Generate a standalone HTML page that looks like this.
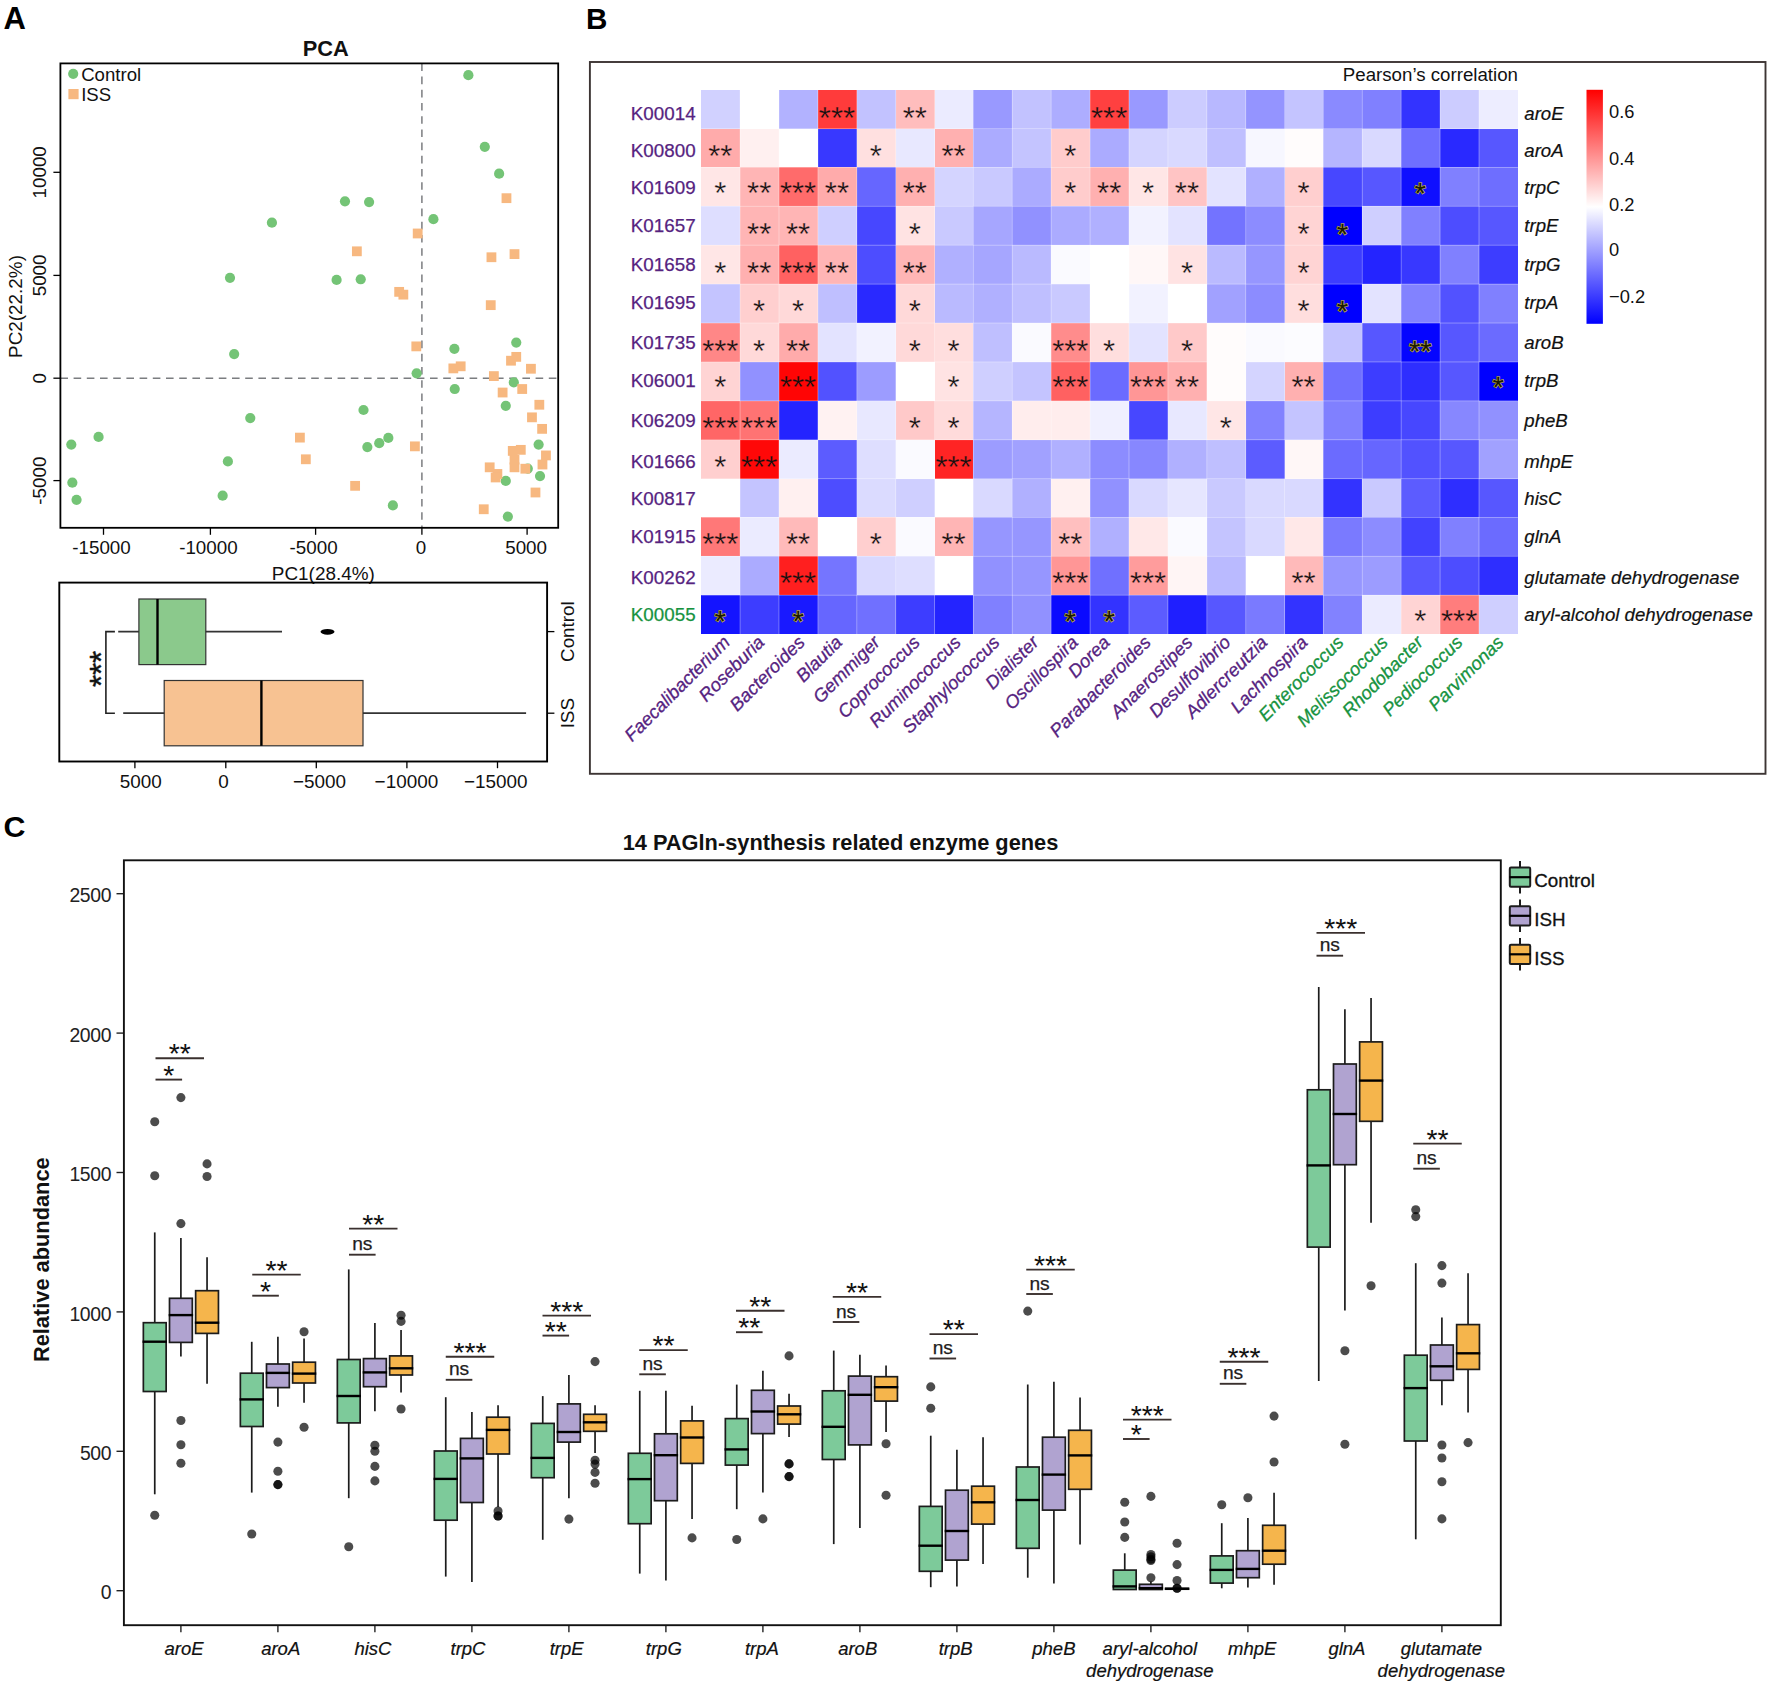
<!DOCTYPE html>
<html lang="en">
<head>
<meta charset="utf-8">
<title>Figure</title>
<style>
html,body{margin:0;padding:0;background:#fff;}
body{width:1772px;height:1688px;overflow:hidden;}
svg{display:block;font-family:"Liberation Sans", Arial, Helvetica, sans-serif;}
</style>
</head>
<body>
<svg width="1772" height="1688" viewBox="0 0 1772 1688">
<rect x="0" y="0" width="1772" height="1688" fill="#ffffff"/>
<g id="panelA">
<text x="3.5" y="29" font-size="31" fill="#000" font-weight="bold">A</text>
<text x="325.8" y="56" font-size="21.8" fill="#111" text-anchor="middle" font-weight="bold">PCA</text>
<line x1="421.9" y1="63.4" x2="421.9" y2="527.8" stroke="#7b7d80" stroke-width="1.5" stroke-dasharray="7.6 5.6"/>
<line x1="60.4" y1="378.2" x2="558.2" y2="378.2" stroke="#7b7d80" stroke-width="1.5" stroke-dasharray="7.6 5.6"/>
<circle cx="468.37" cy="75.15" r="5.1" fill="#74c476"/>
<circle cx="484.8" cy="146.8" r="5.1" fill="#74c476"/>
<circle cx="499.13" cy="173.72" r="5.1" fill="#74c476"/>
<circle cx="344.98" cy="201.33" r="5.1" fill="#74c476"/>
<circle cx="369.1" cy="202.03" r="5.1" fill="#74c476"/>
<circle cx="433.41" cy="219.15" r="5.1" fill="#74c476"/>
<circle cx="271.93" cy="222.65" r="5.1" fill="#74c476"/>
<circle cx="229.99" cy="277.87" r="5.1" fill="#74c476"/>
<circle cx="336.6" cy="279.97" r="5.1" fill="#74c476"/>
<circle cx="360.71" cy="279.27" r="5.1" fill="#74c476"/>
<circle cx="234.18" cy="354.07" r="5.1" fill="#74c476"/>
<circle cx="516.25" cy="342.54" r="5.1" fill="#74c476"/>
<circle cx="454.39" cy="348.83" r="5.1" fill="#74c476"/>
<circle cx="416.64" cy="373.3" r="5.1" fill="#74c476"/>
<circle cx="454.74" cy="389.02" r="5.1" fill="#74c476"/>
<circle cx="513.81" cy="382.38" r="5.1" fill="#74c476"/>
<circle cx="505.77" cy="405.8" r="5.1" fill="#74c476"/>
<circle cx="363.51" cy="410" r="5.1" fill="#74c476"/>
<circle cx="250.26" cy="418.04" r="5.1" fill="#74c476"/>
<circle cx="98.57" cy="436.91" r="5.1" fill="#74c476"/>
<circle cx="71.3" cy="444.6" r="5.1" fill="#74c476"/>
<circle cx="388.33" cy="437.96" r="5.1" fill="#74c476"/>
<circle cx="379.24" cy="443.2" r="5.1" fill="#74c476"/>
<circle cx="367.35" cy="447.05" r="5.1" fill="#74c476"/>
<circle cx="227.89" cy="461.38" r="5.1" fill="#74c476"/>
<circle cx="538.62" cy="444.6" r="5.1" fill="#74c476"/>
<circle cx="527.79" cy="468.72" r="5.1" fill="#74c476"/>
<circle cx="540.02" cy="476.06" r="5.1" fill="#74c476"/>
<circle cx="505.77" cy="480.95" r="5.1" fill="#74c476"/>
<circle cx="72.35" cy="482.7" r="5.1" fill="#74c476"/>
<circle cx="76.55" cy="499.83" r="5.1" fill="#74c476"/>
<circle cx="222.65" cy="495.63" r="5.1" fill="#74c476"/>
<circle cx="392.87" cy="505.42" r="5.1" fill="#74c476"/>
<circle cx="507.86" cy="516.6" r="5.1" fill="#74c476"/>
<rect x="501.57" y="193.28" width="9.8" height="9.8" fill="#f7b880"/>
<rect x="412.79" y="228.58" width="9.8" height="9.8" fill="#f7b880"/>
<rect x="351.97" y="246.41" width="9.8" height="9.8" fill="#f7b880"/>
<rect x="486.54" y="252.35" width="9.8" height="9.8" fill="#f7b880"/>
<rect x="509.61" y="249.21" width="9.8" height="9.8" fill="#f7b880"/>
<rect x="394.26" y="286.96" width="9.8" height="9.8" fill="#f7b880"/>
<rect x="398.46" y="289.75" width="9.8" height="9.8" fill="#f7b880"/>
<rect x="485.84" y="300.24" width="9.8" height="9.8" fill="#f7b880"/>
<rect x="411.39" y="341.48" width="9.8" height="9.8" fill="#f7b880"/>
<rect x="511.35" y="351.97" width="9.8" height="9.8" fill="#f7b880"/>
<rect x="506.11" y="355.81" width="9.8" height="9.8" fill="#f7b880"/>
<rect x="455.78" y="361.41" width="9.8" height="9.8" fill="#f7b880"/>
<rect x="448.44" y="363.5" width="9.8" height="9.8" fill="#f7b880"/>
<rect x="526.03" y="363.85" width="9.8" height="9.8" fill="#f7b880"/>
<rect x="488.98" y="371.19" width="9.8" height="9.8" fill="#f7b880"/>
<rect x="517.3" y="384.12" width="9.8" height="9.8" fill="#f7b880"/>
<rect x="497.72" y="387.62" width="9.8" height="9.8" fill="#f7b880"/>
<rect x="534.42" y="399.85" width="9.8" height="9.8" fill="#f7b880"/>
<rect x="527.08" y="412.44" width="9.8" height="9.8" fill="#f7b880"/>
<rect x="537.22" y="423.97" width="9.8" height="9.8" fill="#f7b880"/>
<rect x="295" y="432.71" width="9.8" height="9.8" fill="#f7b880"/>
<rect x="409.99" y="441.45" width="9.8" height="9.8" fill="#f7b880"/>
<rect x="507.86" y="445.99" width="9.8" height="9.8" fill="#f7b880"/>
<rect x="515.9" y="444.94" width="9.8" height="9.8" fill="#f7b880"/>
<rect x="541.06" y="450.54" width="9.8" height="9.8" fill="#f7b880"/>
<rect x="300.94" y="454.38" width="9.8" height="9.8" fill="#f7b880"/>
<rect x="509.61" y="454.73" width="9.8" height="9.8" fill="#f7b880"/>
<rect x="537.57" y="459.62" width="9.8" height="9.8" fill="#f7b880"/>
<rect x="484.79" y="462.42" width="9.8" height="9.8" fill="#f7b880"/>
<rect x="509.61" y="462.42" width="9.8" height="9.8" fill="#f7b880"/>
<rect x="520.44" y="463.82" width="9.8" height="9.8" fill="#f7b880"/>
<rect x="492.48" y="469.06" width="9.8" height="9.8" fill="#f7b880"/>
<rect x="490.73" y="472.56" width="9.8" height="9.8" fill="#f7b880"/>
<rect x="350.22" y="480.94" width="9.8" height="9.8" fill="#f7b880"/>
<rect x="530.58" y="487.59" width="9.8" height="9.8" fill="#f7b880"/>
<rect x="478.85" y="504.36" width="9.8" height="9.8" fill="#f7b880"/>
<rect x="60.4" y="63.4" width="497.8" height="464.4" fill="none" stroke="#000" stroke-width="1.8"/>
<circle cx="73.2" cy="73.8" r="5.1" fill="#74c476"/>
<text x="81.2" y="81" font-size="18.6" fill="#111">Control</text>
<rect x="68.4" y="89" width="10.2" height="10.2" fill="#f7b880"/>
<text x="81.2" y="100.8" font-size="18.6" fill="#111">ISS</text>
<line x1="103.5" y1="527.8" x2="103.5" y2="534.8" stroke="#000" stroke-width="1.3" />
<text x="101.5" y="553.5" font-size="18.8" fill="#111" text-anchor="middle">-15000</text>
<line x1="210.4" y1="527.8" x2="210.4" y2="534.8" stroke="#000" stroke-width="1.3" />
<text x="208.4" y="553.5" font-size="18.8" fill="#111" text-anchor="middle">-10000</text>
<line x1="315.6" y1="527.8" x2="315.6" y2="534.8" stroke="#000" stroke-width="1.3" />
<text x="313.6" y="553.5" font-size="18.8" fill="#111" text-anchor="middle">-5000</text>
<line x1="421.9" y1="527.8" x2="421.9" y2="534.8" stroke="#000" stroke-width="1.3" />
<text x="420.9" y="553.5" font-size="18.8" fill="#111" text-anchor="middle">0</text>
<line x1="527.1" y1="527.8" x2="527.1" y2="534.8" stroke="#000" stroke-width="1.3" />
<text x="526.1" y="553.5" font-size="18.8" fill="#111" text-anchor="middle">5000</text>
<line x1="53.4" y1="172.3" x2="60.4" y2="172.3" stroke="#000" stroke-width="1.3" />
<text x="46.5" y="172.3" font-size="18.8" fill="#111" text-anchor="middle" transform="rotate(-90 46.5 172.3)">10000</text>
<line x1="53.4" y1="275.4" x2="60.4" y2="275.4" stroke="#000" stroke-width="1.3" />
<text x="46.5" y="275.4" font-size="18.8" fill="#111" text-anchor="middle" transform="rotate(-90 46.5 275.4)">5000</text>
<line x1="53.4" y1="378.2" x2="60.4" y2="378.2" stroke="#000" stroke-width="1.3" />
<text x="46.5" y="378.2" font-size="18.8" fill="#111" text-anchor="middle" transform="rotate(-90 46.5 378.2)">0</text>
<line x1="53.4" y1="480.6" x2="60.4" y2="480.6" stroke="#000" stroke-width="1.3" />
<text x="46.5" y="480.6" font-size="18.8" fill="#111" text-anchor="middle" transform="rotate(-90 46.5 480.6)">-5000</text>
<text x="323.3" y="580.4" font-size="18.9" fill="#111" text-anchor="middle">PC1(28.4%)</text>
<text x="22" y="306.5" font-size="18.9" fill="#111" text-anchor="middle" transform="rotate(-90 22 306.5)">PC2(22.2%)</text>
<line x1="118.2" y1="631.6" x2="282" y2="631.6" stroke="#333" stroke-width="1.7" />
<rect x="138.9" y="599" width="66.9" height="65.6" fill="#8bc98c" stroke="#333" stroke-width="1.2"/>
<line x1="157.5" y1="599" x2="157.5" y2="664.6" stroke="#000" stroke-width="2.4" />
<ellipse cx="327.5" cy="631.8" rx="7" ry="2.9" fill="#000"/>
<line x1="123.2" y1="713.2" x2="526.1" y2="713.2" stroke="#333" stroke-width="1.7" />
<rect x="164.2" y="680.5" width="198.8" height="65.3" fill="#f7c292" stroke="#333" stroke-width="1.2"/>
<line x1="261.4" y1="680.5" x2="261.4" y2="745.8" stroke="#000" stroke-width="2.4" />
<path d="M114.9 631.6 H105.9 V713.2 H114.9" fill="none" stroke="#222" stroke-width="1.6"/>
<text x="112.5" y="668.9" font-size="31" fill="#111" text-anchor="middle" transform="rotate(-90 112.5 668.9)" stroke="#111" stroke-width="0.5">***</text>
<rect x="59.3" y="582.6" width="487.8" height="178.9" fill="none" stroke="#000" stroke-width="1.9"/>
<line x1="134.9" y1="761.5" x2="134.9" y2="768.2" stroke="#000" stroke-width="1.3" />
<text x="140.8" y="788.2" font-size="18.9" fill="#111" text-anchor="middle">5000</text>
<line x1="225.8" y1="761.5" x2="225.8" y2="768.2" stroke="#000" stroke-width="1.3" />
<text x="223.4" y="788.2" font-size="18.9" fill="#111" text-anchor="middle">0</text>
<line x1="316.3" y1="761.5" x2="316.3" y2="768.2" stroke="#000" stroke-width="1.3" />
<text x="319.6" y="788.2" font-size="18.9" fill="#111" text-anchor="middle">−5000</text>
<line x1="406.9" y1="761.5" x2="406.9" y2="768.2" stroke="#000" stroke-width="1.3" />
<text x="406.4" y="788.2" font-size="18.9" fill="#111" text-anchor="middle">−10000</text>
<line x1="497.5" y1="761.5" x2="497.5" y2="768.2" stroke="#000" stroke-width="1.3" />
<text x="495.8" y="788.2" font-size="18.9" fill="#111" text-anchor="middle">−15000</text>
<line x1="547.1" y1="631.6" x2="554.4" y2="631.6" stroke="#000" stroke-width="1.3" />
<text x="573.6" y="631.6" font-size="18.8" fill="#111" text-anchor="middle" transform="rotate(-90 573.6 631.6)">Control</text>
<line x1="547.1" y1="713.2" x2="554.4" y2="713.2" stroke="#000" stroke-width="1.3" />
<text x="573.6" y="713.2" font-size="18.8" fill="#111" text-anchor="middle" transform="rotate(-90 573.6 713.2)">ISS</text>
</g>
<g id="panelB">
<text x="585.9" y="29" font-size="29.6" fill="#000" font-weight="bold">B</text>
<rect x="589.9" y="62" width="1175.6" height="711.8" fill="none" stroke="#3d3534" stroke-width="1.9"/>
<g shape-rendering="crispEdges">
<rect x="701.2" y="89.7" width="39.19" height="39.19" fill="#d1d1ff"/>
<rect x="740.09" y="89.7" width="39.19" height="39.19" fill="#ffffff"/>
<rect x="778.98" y="89.7" width="39.19" height="39.19" fill="#b2b2ff"/>
<rect x="817.87" y="89.7" width="39.19" height="39.19" fill="#ff3b3b"/>
<rect x="856.76" y="89.7" width="39.19" height="39.19" fill="#c2c2ff"/>
<rect x="895.65" y="89.7" width="39.19" height="39.19" fill="#ffbdbd"/>
<rect x="934.54" y="89.7" width="39.19" height="39.19" fill="#ebebff"/>
<rect x="973.43" y="89.7" width="39.19" height="39.19" fill="#9999ff"/>
<rect x="1012.32" y="89.7" width="39.19" height="39.19" fill="#c2c2ff"/>
<rect x="1051.21" y="89.7" width="39.19" height="39.19" fill="#adadff"/>
<rect x="1090.1" y="89.7" width="39.19" height="39.19" fill="#ff4040"/>
<rect x="1128.99" y="89.7" width="39.19" height="39.19" fill="#9999ff"/>
<rect x="1167.88" y="89.7" width="39.19" height="39.19" fill="#ccccff"/>
<rect x="1206.77" y="89.7" width="39.19" height="39.19" fill="#b8b8ff"/>
<rect x="1245.66" y="89.7" width="39.19" height="39.19" fill="#9494ff"/>
<rect x="1284.55" y="89.7" width="39.19" height="39.19" fill="#c4c4ff"/>
<rect x="1323.44" y="89.7" width="39.19" height="39.19" fill="#8a8aff"/>
<rect x="1362.33" y="89.7" width="39.19" height="39.19" fill="#8080ff"/>
<rect x="1401.22" y="89.7" width="39.19" height="39.19" fill="#3333ff"/>
<rect x="1440.11" y="89.7" width="39.19" height="39.19" fill="#ccccff"/>
<rect x="1479" y="89.7" width="39.19" height="39.19" fill="#ededff"/>
<rect x="701.2" y="128.59" width="39.19" height="39.19" fill="#ffabab"/>
<rect x="740.09" y="128.59" width="39.19" height="39.19" fill="#fff0f0"/>
<rect x="778.98" y="128.59" width="39.19" height="39.19" fill="#ffffff"/>
<rect x="817.87" y="128.59" width="39.19" height="39.19" fill="#3838ff"/>
<rect x="856.76" y="128.59" width="39.19" height="39.19" fill="#ffe0e0"/>
<rect x="895.65" y="128.59" width="39.19" height="39.19" fill="#e8e8ff"/>
<rect x="934.54" y="128.59" width="39.19" height="39.19" fill="#ffb0b0"/>
<rect x="973.43" y="128.59" width="39.19" height="39.19" fill="#ababff"/>
<rect x="1012.32" y="128.59" width="39.19" height="39.19" fill="#c4c4ff"/>
<rect x="1051.21" y="128.59" width="39.19" height="39.19" fill="#ffcccc"/>
<rect x="1090.1" y="128.59" width="39.19" height="39.19" fill="#ababff"/>
<rect x="1128.99" y="128.59" width="39.19" height="39.19" fill="#d4d4ff"/>
<rect x="1167.88" y="128.59" width="39.19" height="39.19" fill="#d9d9ff"/>
<rect x="1206.77" y="128.59" width="39.19" height="39.19" fill="#bfbfff"/>
<rect x="1245.66" y="128.59" width="39.19" height="39.19" fill="#f7f7ff"/>
<rect x="1284.55" y="128.59" width="39.19" height="39.19" fill="#fffcfc"/>
<rect x="1323.44" y="128.59" width="39.19" height="39.19" fill="#b5b5ff"/>
<rect x="1362.33" y="128.59" width="39.19" height="39.19" fill="#d9d9ff"/>
<rect x="1401.22" y="128.59" width="39.19" height="39.19" fill="#6e6eff"/>
<rect x="1440.11" y="128.59" width="39.19" height="39.19" fill="#2929ff"/>
<rect x="1479" y="128.59" width="39.19" height="39.19" fill="#5757ff"/>
<rect x="701.2" y="167.48" width="39.19" height="39.19" fill="#ffe6e6"/>
<rect x="740.09" y="167.48" width="39.19" height="39.19" fill="#ffb5b5"/>
<rect x="778.98" y="167.48" width="39.19" height="39.19" fill="#ff6b6b"/>
<rect x="817.87" y="167.48" width="39.19" height="39.19" fill="#ffabab"/>
<rect x="856.76" y="167.48" width="39.19" height="39.19" fill="#6666ff"/>
<rect x="895.65" y="167.48" width="39.19" height="39.19" fill="#ffb0b0"/>
<rect x="934.54" y="167.48" width="39.19" height="39.19" fill="#d4d4ff"/>
<rect x="973.43" y="167.48" width="39.19" height="39.19" fill="#c9c9ff"/>
<rect x="1012.32" y="167.48" width="39.19" height="39.19" fill="#ababff"/>
<rect x="1051.21" y="167.48" width="39.19" height="39.19" fill="#ffcccc"/>
<rect x="1090.1" y="167.48" width="39.19" height="39.19" fill="#ffb0b0"/>
<rect x="1128.99" y="167.48" width="39.19" height="39.19" fill="#ffe6e6"/>
<rect x="1167.88" y="167.48" width="39.19" height="39.19" fill="#ffc4c4"/>
<rect x="1206.77" y="167.48" width="39.19" height="39.19" fill="#e3e3ff"/>
<rect x="1245.66" y="167.48" width="39.19" height="39.19" fill="#b0b0ff"/>
<rect x="1284.55" y="167.48" width="39.19" height="39.19" fill="#ffcfcf"/>
<rect x="1323.44" y="167.48" width="39.19" height="39.19" fill="#4747ff"/>
<rect x="1362.33" y="167.48" width="39.19" height="39.19" fill="#5757ff"/>
<rect x="1401.22" y="167.48" width="39.19" height="39.19" fill="#0f0fff"/>
<rect x="1440.11" y="167.48" width="39.19" height="39.19" fill="#8080ff"/>
<rect x="1479" y="167.48" width="39.19" height="39.19" fill="#6e6eff"/>
<rect x="701.2" y="206.37" width="39.19" height="39.19" fill="#dedeff"/>
<rect x="740.09" y="206.37" width="39.19" height="39.19" fill="#ffb5b5"/>
<rect x="778.98" y="206.37" width="39.19" height="39.19" fill="#ffb5b5"/>
<rect x="817.87" y="206.37" width="39.19" height="39.19" fill="#cfcfff"/>
<rect x="856.76" y="206.37" width="39.19" height="39.19" fill="#4747ff"/>
<rect x="895.65" y="206.37" width="39.19" height="39.19" fill="#ffe3e3"/>
<rect x="934.54" y="206.37" width="39.19" height="39.19" fill="#c9c9ff"/>
<rect x="973.43" y="206.37" width="39.19" height="39.19" fill="#a6a6ff"/>
<rect x="1012.32" y="206.37" width="39.19" height="39.19" fill="#9191ff"/>
<rect x="1051.21" y="206.37" width="39.19" height="39.19" fill="#ababff"/>
<rect x="1090.1" y="206.37" width="39.19" height="39.19" fill="#b0b0ff"/>
<rect x="1128.99" y="206.37" width="39.19" height="39.19" fill="#f2f2ff"/>
<rect x="1167.88" y="206.37" width="39.19" height="39.19" fill="#e3e3ff"/>
<rect x="1206.77" y="206.37" width="39.19" height="39.19" fill="#7373ff"/>
<rect x="1245.66" y="206.37" width="39.19" height="39.19" fill="#8c8cff"/>
<rect x="1284.55" y="206.37" width="39.19" height="39.19" fill="#ffd4d4"/>
<rect x="1323.44" y="206.37" width="39.19" height="39.19" fill="#0000ff"/>
<rect x="1362.33" y="206.37" width="39.19" height="39.19" fill="#cfcfff"/>
<rect x="1401.22" y="206.37" width="39.19" height="39.19" fill="#8080ff"/>
<rect x="1440.11" y="206.37" width="39.19" height="39.19" fill="#4d4dff"/>
<rect x="1479" y="206.37" width="39.19" height="39.19" fill="#5757ff"/>
<rect x="701.2" y="245.26" width="39.19" height="39.19" fill="#ffe6e6"/>
<rect x="740.09" y="245.26" width="39.19" height="39.19" fill="#ffb0b0"/>
<rect x="778.98" y="245.26" width="39.19" height="39.19" fill="#ff6161"/>
<rect x="817.87" y="245.26" width="39.19" height="39.19" fill="#ffb5b5"/>
<rect x="856.76" y="245.26" width="39.19" height="39.19" fill="#4d4dff"/>
<rect x="895.65" y="245.26" width="39.19" height="39.19" fill="#ffb5b5"/>
<rect x="934.54" y="245.26" width="39.19" height="39.19" fill="#b0b0ff"/>
<rect x="973.43" y="245.26" width="39.19" height="39.19" fill="#a6a6ff"/>
<rect x="1012.32" y="245.26" width="39.19" height="39.19" fill="#babaff"/>
<rect x="1051.21" y="245.26" width="39.19" height="39.19" fill="#fafaff"/>
<rect x="1090.1" y="245.26" width="39.19" height="39.19" fill="#ffffff"/>
<rect x="1128.99" y="245.26" width="39.19" height="39.19" fill="#fff7f7"/>
<rect x="1167.88" y="245.26" width="39.19" height="39.19" fill="#ffe3e3"/>
<rect x="1206.77" y="245.26" width="39.19" height="39.19" fill="#babaff"/>
<rect x="1245.66" y="245.26" width="39.19" height="39.19" fill="#9696ff"/>
<rect x="1284.55" y="245.26" width="39.19" height="39.19" fill="#ffd4d4"/>
<rect x="1323.44" y="245.26" width="39.19" height="39.19" fill="#3d3dff"/>
<rect x="1362.33" y="245.26" width="39.19" height="39.19" fill="#2424ff"/>
<rect x="1401.22" y="245.26" width="39.19" height="39.19" fill="#3838ff"/>
<rect x="1440.11" y="245.26" width="39.19" height="39.19" fill="#8080ff"/>
<rect x="1479" y="245.26" width="39.19" height="39.19" fill="#3d3dff"/>
<rect x="701.2" y="284.15" width="39.19" height="39.19" fill="#c4c4ff"/>
<rect x="740.09" y="284.15" width="39.19" height="39.19" fill="#ffcfcf"/>
<rect x="778.98" y="284.15" width="39.19" height="39.19" fill="#ffd9d9"/>
<rect x="817.87" y="284.15" width="39.19" height="39.19" fill="#bfbfff"/>
<rect x="856.76" y="284.15" width="39.19" height="39.19" fill="#2929ff"/>
<rect x="895.65" y="284.15" width="39.19" height="39.19" fill="#ffd9d9"/>
<rect x="934.54" y="284.15" width="39.19" height="39.19" fill="#babaff"/>
<rect x="973.43" y="284.15" width="39.19" height="39.19" fill="#b0b0ff"/>
<rect x="1012.32" y="284.15" width="39.19" height="39.19" fill="#bfbfff"/>
<rect x="1051.21" y="284.15" width="39.19" height="39.19" fill="#c9c9ff"/>
<rect x="1090.1" y="284.15" width="39.19" height="39.19" fill="#ffffff"/>
<rect x="1128.99" y="284.15" width="39.19" height="39.19" fill="#f2f2ff"/>
<rect x="1167.88" y="284.15" width="39.19" height="39.19" fill="#ffffff"/>
<rect x="1206.77" y="284.15" width="39.19" height="39.19" fill="#a1a1ff"/>
<rect x="1245.66" y="284.15" width="39.19" height="39.19" fill="#8c8cff"/>
<rect x="1284.55" y="284.15" width="39.19" height="39.19" fill="#ffdede"/>
<rect x="1323.44" y="284.15" width="39.19" height="39.19" fill="#0000ff"/>
<rect x="1362.33" y="284.15" width="39.19" height="39.19" fill="#e3e3ff"/>
<rect x="1401.22" y="284.15" width="39.19" height="39.19" fill="#8282ff"/>
<rect x="1440.11" y="284.15" width="39.19" height="39.19" fill="#5252ff"/>
<rect x="1479" y="284.15" width="39.19" height="39.19" fill="#8080ff"/>
<rect x="701.2" y="323.04" width="39.19" height="39.19" fill="#ff8787"/>
<rect x="740.09" y="323.04" width="39.19" height="39.19" fill="#ffd9d9"/>
<rect x="778.98" y="323.04" width="39.19" height="39.19" fill="#ffabab"/>
<rect x="817.87" y="323.04" width="39.19" height="39.19" fill="#e3e3ff"/>
<rect x="856.76" y="323.04" width="39.19" height="39.19" fill="#f2f2ff"/>
<rect x="895.65" y="323.04" width="39.19" height="39.19" fill="#ffd9d9"/>
<rect x="934.54" y="323.04" width="39.19" height="39.19" fill="#ffdede"/>
<rect x="973.43" y="323.04" width="39.19" height="39.19" fill="#bfbfff"/>
<rect x="1012.32" y="323.04" width="39.19" height="39.19" fill="#fafaff"/>
<rect x="1051.21" y="323.04" width="39.19" height="39.19" fill="#ff8c8c"/>
<rect x="1090.1" y="323.04" width="39.19" height="39.19" fill="#ffdede"/>
<rect x="1128.99" y="323.04" width="39.19" height="39.19" fill="#e3e3ff"/>
<rect x="1167.88" y="323.04" width="39.19" height="39.19" fill="#ffc9c9"/>
<rect x="1206.77" y="323.04" width="39.19" height="39.19" fill="#fffcfc"/>
<rect x="1245.66" y="323.04" width="39.19" height="39.19" fill="#fafaff"/>
<rect x="1284.55" y="323.04" width="39.19" height="39.19" fill="#fcfcff"/>
<rect x="1323.44" y="323.04" width="39.19" height="39.19" fill="#c4c4ff"/>
<rect x="1362.33" y="323.04" width="39.19" height="39.19" fill="#5757ff"/>
<rect x="1401.22" y="323.04" width="39.19" height="39.19" fill="#0505ff"/>
<rect x="1440.11" y="323.04" width="39.19" height="39.19" fill="#5757ff"/>
<rect x="1479" y="323.04" width="39.19" height="39.19" fill="#6b6bff"/>
<rect x="701.2" y="361.93" width="39.19" height="39.19" fill="#ffd4d4"/>
<rect x="740.09" y="361.93" width="39.19" height="39.19" fill="#9191ff"/>
<rect x="778.98" y="361.93" width="39.19" height="39.19" fill="#ff0505"/>
<rect x="817.87" y="361.93" width="39.19" height="39.19" fill="#5252ff"/>
<rect x="856.76" y="361.93" width="39.19" height="39.19" fill="#9c9cff"/>
<rect x="895.65" y="361.93" width="39.19" height="39.19" fill="#ffffff"/>
<rect x="934.54" y="361.93" width="39.19" height="39.19" fill="#ffe3e3"/>
<rect x="973.43" y="361.93" width="39.19" height="39.19" fill="#cfcfff"/>
<rect x="1012.32" y="361.93" width="39.19" height="39.19" fill="#c4c4ff"/>
<rect x="1051.21" y="361.93" width="39.19" height="39.19" fill="#ff6161"/>
<rect x="1090.1" y="361.93" width="39.19" height="39.19" fill="#6b6bff"/>
<rect x="1128.99" y="361.93" width="39.19" height="39.19" fill="#ff9696"/>
<rect x="1167.88" y="361.93" width="39.19" height="39.19" fill="#ffb0b0"/>
<rect x="1206.77" y="361.93" width="39.19" height="39.19" fill="#fffcfc"/>
<rect x="1245.66" y="361.93" width="39.19" height="39.19" fill="#d4d4ff"/>
<rect x="1284.55" y="361.93" width="39.19" height="39.19" fill="#ffb0b0"/>
<rect x="1323.44" y="361.93" width="39.19" height="39.19" fill="#7070ff"/>
<rect x="1362.33" y="361.93" width="39.19" height="39.19" fill="#3d3dff"/>
<rect x="1401.22" y="361.93" width="39.19" height="39.19" fill="#2e2eff"/>
<rect x="1440.11" y="361.93" width="39.19" height="39.19" fill="#5757ff"/>
<rect x="1479" y="361.93" width="39.19" height="39.19" fill="#0000ff"/>
<rect x="701.2" y="400.82" width="39.19" height="39.19" fill="#ff6666"/>
<rect x="740.09" y="400.82" width="39.19" height="39.19" fill="#ff7373"/>
<rect x="778.98" y="400.82" width="39.19" height="39.19" fill="#2424ff"/>
<rect x="817.87" y="400.82" width="39.19" height="39.19" fill="#fff2f2"/>
<rect x="856.76" y="400.82" width="39.19" height="39.19" fill="#e8e8ff"/>
<rect x="895.65" y="400.82" width="39.19" height="39.19" fill="#ffc9c9"/>
<rect x="934.54" y="400.82" width="39.19" height="39.19" fill="#ffdbdb"/>
<rect x="973.43" y="400.82" width="39.19" height="39.19" fill="#b5b5ff"/>
<rect x="1012.32" y="400.82" width="39.19" height="39.19" fill="#ffeded"/>
<rect x="1051.21" y="400.82" width="39.19" height="39.19" fill="#ffeded"/>
<rect x="1090.1" y="400.82" width="39.19" height="39.19" fill="#f0f0ff"/>
<rect x="1128.99" y="400.82" width="39.19" height="39.19" fill="#4747ff"/>
<rect x="1167.88" y="400.82" width="39.19" height="39.19" fill="#e8e8ff"/>
<rect x="1206.77" y="400.82" width="39.19" height="39.19" fill="#ffe6e6"/>
<rect x="1245.66" y="400.82" width="39.19" height="39.19" fill="#8282ff"/>
<rect x="1284.55" y="400.82" width="39.19" height="39.19" fill="#c4c4ff"/>
<rect x="1323.44" y="400.82" width="39.19" height="39.19" fill="#8080ff"/>
<rect x="1362.33" y="400.82" width="39.19" height="39.19" fill="#3d3dff"/>
<rect x="1401.22" y="400.82" width="39.19" height="39.19" fill="#4747ff"/>
<rect x="1440.11" y="400.82" width="39.19" height="39.19" fill="#8787ff"/>
<rect x="1479" y="400.82" width="39.19" height="39.19" fill="#9191ff"/>
<rect x="701.2" y="439.71" width="39.19" height="39.19" fill="#ffcfcf"/>
<rect x="740.09" y="439.71" width="39.19" height="39.19" fill="#ff0808"/>
<rect x="778.98" y="439.71" width="39.19" height="39.19" fill="#ebebff"/>
<rect x="817.87" y="439.71" width="39.19" height="39.19" fill="#5c5cff"/>
<rect x="856.76" y="439.71" width="39.19" height="39.19" fill="#dedeff"/>
<rect x="895.65" y="439.71" width="39.19" height="39.19" fill="#fafaff"/>
<rect x="934.54" y="439.71" width="39.19" height="39.19" fill="#ff2424"/>
<rect x="973.43" y="439.71" width="39.19" height="39.19" fill="#9c9cff"/>
<rect x="1012.32" y="439.71" width="39.19" height="39.19" fill="#a1a1ff"/>
<rect x="1051.21" y="439.71" width="39.19" height="39.19" fill="#b0b0ff"/>
<rect x="1090.1" y="439.71" width="39.19" height="39.19" fill="#8c8cff"/>
<rect x="1128.99" y="439.71" width="39.19" height="39.19" fill="#8787ff"/>
<rect x="1167.88" y="439.71" width="39.19" height="39.19" fill="#b0b0ff"/>
<rect x="1206.77" y="439.71" width="39.19" height="39.19" fill="#bfbfff"/>
<rect x="1245.66" y="439.71" width="39.19" height="39.19" fill="#5c5cff"/>
<rect x="1284.55" y="439.71" width="39.19" height="39.19" fill="#fff7f7"/>
<rect x="1323.44" y="439.71" width="39.19" height="39.19" fill="#6b6bff"/>
<rect x="1362.33" y="439.71" width="39.19" height="39.19" fill="#6666ff"/>
<rect x="1401.22" y="439.71" width="39.19" height="39.19" fill="#5252ff"/>
<rect x="1440.11" y="439.71" width="39.19" height="39.19" fill="#5757ff"/>
<rect x="1479" y="439.71" width="39.19" height="39.19" fill="#a1a1ff"/>
<rect x="701.2" y="478.6" width="39.19" height="39.19" fill="#ffffff"/>
<rect x="740.09" y="478.6" width="39.19" height="39.19" fill="#c4c4ff"/>
<rect x="778.98" y="478.6" width="39.19" height="39.19" fill="#fff0f0"/>
<rect x="817.87" y="478.6" width="39.19" height="39.19" fill="#4d4dff"/>
<rect x="856.76" y="478.6" width="39.19" height="39.19" fill="#dbdbff"/>
<rect x="895.65" y="478.6" width="39.19" height="39.19" fill="#cfcfff"/>
<rect x="934.54" y="478.6" width="39.19" height="39.19" fill="#ffffff"/>
<rect x="973.43" y="478.6" width="39.19" height="39.19" fill="#d9d9ff"/>
<rect x="1012.32" y="478.6" width="39.19" height="39.19" fill="#b0b0ff"/>
<rect x="1051.21" y="478.6" width="39.19" height="39.19" fill="#fff0f0"/>
<rect x="1090.1" y="478.6" width="39.19" height="39.19" fill="#9191ff"/>
<rect x="1128.99" y="478.6" width="39.19" height="39.19" fill="#d9d9ff"/>
<rect x="1167.88" y="478.6" width="39.19" height="39.19" fill="#e6e6ff"/>
<rect x="1206.77" y="478.6" width="39.19" height="39.19" fill="#c9c9ff"/>
<rect x="1245.66" y="478.6" width="39.19" height="39.19" fill="#d9d9ff"/>
<rect x="1284.55" y="478.6" width="39.19" height="39.19" fill="#d9d9ff"/>
<rect x="1323.44" y="478.6" width="39.19" height="39.19" fill="#3333ff"/>
<rect x="1362.33" y="478.6" width="39.19" height="39.19" fill="#c9c9ff"/>
<rect x="1401.22" y="478.6" width="39.19" height="39.19" fill="#5c5cff"/>
<rect x="1440.11" y="478.6" width="39.19" height="39.19" fill="#2e2eff"/>
<rect x="1479" y="478.6" width="39.19" height="39.19" fill="#5757ff"/>
<rect x="701.2" y="517.49" width="39.19" height="39.19" fill="#ff7878"/>
<rect x="740.09" y="517.49" width="39.19" height="39.19" fill="#ebebff"/>
<rect x="778.98" y="517.49" width="39.19" height="39.19" fill="#ffbaba"/>
<rect x="817.87" y="517.49" width="39.19" height="39.19" fill="#ffffff"/>
<rect x="856.76" y="517.49" width="39.19" height="39.19" fill="#ffcfcf"/>
<rect x="895.65" y="517.49" width="39.19" height="39.19" fill="#fafaff"/>
<rect x="934.54" y="517.49" width="39.19" height="39.19" fill="#ffb5b5"/>
<rect x="973.43" y="517.49" width="39.19" height="39.19" fill="#9696ff"/>
<rect x="1012.32" y="517.49" width="39.19" height="39.19" fill="#9696ff"/>
<rect x="1051.21" y="517.49" width="39.19" height="39.19" fill="#ffbfbf"/>
<rect x="1090.1" y="517.49" width="39.19" height="39.19" fill="#b0b0ff"/>
<rect x="1128.99" y="517.49" width="39.19" height="39.19" fill="#ffe8e8"/>
<rect x="1167.88" y="517.49" width="39.19" height="39.19" fill="#fafaff"/>
<rect x="1206.77" y="517.49" width="39.19" height="39.19" fill="#c4c4ff"/>
<rect x="1245.66" y="517.49" width="39.19" height="39.19" fill="#d9d9ff"/>
<rect x="1284.55" y="517.49" width="39.19" height="39.19" fill="#ffe8e8"/>
<rect x="1323.44" y="517.49" width="39.19" height="39.19" fill="#7a7aff"/>
<rect x="1362.33" y="517.49" width="39.19" height="39.19" fill="#8c8cff"/>
<rect x="1401.22" y="517.49" width="39.19" height="39.19" fill="#4242ff"/>
<rect x="1440.11" y="517.49" width="39.19" height="39.19" fill="#8080ff"/>
<rect x="1479" y="517.49" width="39.19" height="39.19" fill="#6b6bff"/>
<rect x="701.2" y="556.38" width="39.19" height="39.19" fill="#ebebff"/>
<rect x="740.09" y="556.38" width="39.19" height="39.19" fill="#ababff"/>
<rect x="778.98" y="556.38" width="39.19" height="39.19" fill="#ff1f1f"/>
<rect x="817.87" y="556.38" width="39.19" height="39.19" fill="#7575ff"/>
<rect x="856.76" y="556.38" width="39.19" height="39.19" fill="#d9d9ff"/>
<rect x="895.65" y="556.38" width="39.19" height="39.19" fill="#dedeff"/>
<rect x="934.54" y="556.38" width="39.19" height="39.19" fill="#ffffff"/>
<rect x="973.43" y="556.38" width="39.19" height="39.19" fill="#9191ff"/>
<rect x="1012.32" y="556.38" width="39.19" height="39.19" fill="#9696ff"/>
<rect x="1051.21" y="556.38" width="39.19" height="39.19" fill="#ff9696"/>
<rect x="1090.1" y="556.38" width="39.19" height="39.19" fill="#7070ff"/>
<rect x="1128.99" y="556.38" width="39.19" height="39.19" fill="#ff9c9c"/>
<rect x="1167.88" y="556.38" width="39.19" height="39.19" fill="#fff5f5"/>
<rect x="1206.77" y="556.38" width="39.19" height="39.19" fill="#babaff"/>
<rect x="1245.66" y="556.38" width="39.19" height="39.19" fill="#ffffff"/>
<rect x="1284.55" y="556.38" width="39.19" height="39.19" fill="#ffbaba"/>
<rect x="1323.44" y="556.38" width="39.19" height="39.19" fill="#9696ff"/>
<rect x="1362.33" y="556.38" width="39.19" height="39.19" fill="#9c9cff"/>
<rect x="1401.22" y="556.38" width="39.19" height="39.19" fill="#5757ff"/>
<rect x="1440.11" y="556.38" width="39.19" height="39.19" fill="#4d4dff"/>
<rect x="1479" y="556.38" width="39.19" height="39.19" fill="#2e2eff"/>
<rect x="701.2" y="595.27" width="39.19" height="39.19" fill="#1414ff"/>
<rect x="740.09" y="595.27" width="39.19" height="39.19" fill="#3d3dff"/>
<rect x="778.98" y="595.27" width="39.19" height="39.19" fill="#1919ff"/>
<rect x="817.87" y="595.27" width="39.19" height="39.19" fill="#6666ff"/>
<rect x="856.76" y="595.27" width="39.19" height="39.19" fill="#7070ff"/>
<rect x="895.65" y="595.27" width="39.19" height="39.19" fill="#3d3dff"/>
<rect x="934.54" y="595.27" width="39.19" height="39.19" fill="#2424ff"/>
<rect x="973.43" y="595.27" width="39.19" height="39.19" fill="#8080ff"/>
<rect x="1012.32" y="595.27" width="39.19" height="39.19" fill="#9191ff"/>
<rect x="1051.21" y="595.27" width="39.19" height="39.19" fill="#0a0aff"/>
<rect x="1090.1" y="595.27" width="39.19" height="39.19" fill="#3333ff"/>
<rect x="1128.99" y="595.27" width="39.19" height="39.19" fill="#5c5cff"/>
<rect x="1167.88" y="595.27" width="39.19" height="39.19" fill="#1f1fff"/>
<rect x="1206.77" y="595.27" width="39.19" height="39.19" fill="#5757ff"/>
<rect x="1245.66" y="595.27" width="39.19" height="39.19" fill="#7a7aff"/>
<rect x="1284.55" y="595.27" width="39.19" height="39.19" fill="#3333ff"/>
<rect x="1323.44" y="595.27" width="39.19" height="39.19" fill="#8282ff"/>
<rect x="1362.33" y="595.27" width="39.19" height="39.19" fill="#ebebff"/>
<rect x="1401.22" y="595.27" width="39.19" height="39.19" fill="#ffd4d4"/>
<rect x="1440.11" y="595.27" width="39.19" height="39.19" fill="#ff7d7d"/>
<rect x="1479" y="595.27" width="39.19" height="39.19" fill="#cfcfff"/>
</g>
<path d="M740.09 89.7V634.16M778.98 89.7V634.16M817.87 89.7V634.16M856.76 89.7V634.16M895.65 89.7V634.16M934.54 89.7V634.16M973.43 89.7V634.16M1012.32 89.7V634.16M1051.21 89.7V634.16M1090.1 89.7V634.16M1128.99 89.7V634.16M1167.88 89.7V634.16M1206.77 89.7V634.16M1245.66 89.7V634.16M1284.55 89.7V634.16M1323.44 89.7V634.16M1362.33 89.7V634.16M1401.22 89.7V634.16M1440.11 89.7V634.16M1479 89.7V634.16M701.2 128.59H1517.89M701.2 167.48H1517.89M701.2 206.37H1517.89M701.2 245.26H1517.89M701.2 284.15H1517.89M701.2 323.04H1517.89M701.2 361.93H1517.89M701.2 400.82H1517.89M701.2 439.71H1517.89M701.2 478.6H1517.89M701.2 517.49H1517.89M701.2 556.38H1517.89M701.2 595.27H1517.89" stroke="#ffffff" stroke-opacity="0.33" stroke-width="1" fill="none"/>
<text x="836.92" y="128.6" font-size="31" fill="#111" text-anchor="middle" stroke="#ff3b3b" stroke-width="0.28">***</text>
<text x="914.7" y="128.6" font-size="31" fill="#111" text-anchor="middle" stroke="#ffbdbd" stroke-width="0.28">**</text>
<text x="1109.14" y="128.6" font-size="31" fill="#111" text-anchor="middle" stroke="#ff4040" stroke-width="0.28">***</text>
<text x="720.25" y="167.39" font-size="31" fill="#111" text-anchor="middle" stroke="#ffabab" stroke-width="0.28">**</text>
<text x="875.81" y="167.39" font-size="31" fill="#111" text-anchor="middle" stroke="#ffe0e0" stroke-width="0.28">*</text>
<text x="953.59" y="167.39" font-size="31" fill="#111" text-anchor="middle" stroke="#ffb0b0" stroke-width="0.28">**</text>
<text x="1070.25" y="167.39" font-size="31" fill="#111" text-anchor="middle" stroke="#ffcccc" stroke-width="0.28">*</text>
<text x="720.25" y="203.88" font-size="31" fill="#111" text-anchor="middle" stroke="#ffe6e6" stroke-width="0.28">*</text>
<text x="759.14" y="203.88" font-size="31" fill="#111" text-anchor="middle" stroke="#ffb5b5" stroke-width="0.28">**</text>
<text x="798.03" y="203.88" font-size="31" fill="#111" text-anchor="middle" stroke="#ff6b6b" stroke-width="0.28">***</text>
<text x="836.92" y="203.88" font-size="31" fill="#111" text-anchor="middle" stroke="#ffabab" stroke-width="0.28">**</text>
<text x="914.7" y="203.88" font-size="31" fill="#111" text-anchor="middle" stroke="#ffb0b0" stroke-width="0.28">**</text>
<text x="1070.25" y="203.88" font-size="31" fill="#111" text-anchor="middle" stroke="#ffcccc" stroke-width="0.28">*</text>
<text x="1109.14" y="203.88" font-size="31" fill="#111" text-anchor="middle" stroke="#ffb0b0" stroke-width="0.28">**</text>
<text x="1148.03" y="203.88" font-size="31" fill="#111" text-anchor="middle" stroke="#ffe6e6" stroke-width="0.28">*</text>
<text x="1186.92" y="203.88" font-size="31" fill="#111" text-anchor="middle" stroke="#ffc4c4" stroke-width="0.28">**</text>
<text x="1303.59" y="203.88" font-size="31" fill="#111" text-anchor="middle" stroke="#ffcfcf" stroke-width="0.28">*</text>
<text x="1420.26" y="202.68" font-size="29" fill="#1c1a00" text-anchor="middle" stroke="#cdbb2a" stroke-opacity="0.85" stroke-width="1.7" paint-order="stroke">*</text>
<text x="759.14" y="244.97" font-size="31" fill="#111" text-anchor="middle" stroke="#ffb5b5" stroke-width="0.28">**</text>
<text x="798.03" y="244.97" font-size="31" fill="#111" text-anchor="middle" stroke="#ffb5b5" stroke-width="0.28">**</text>
<text x="914.7" y="244.97" font-size="31" fill="#111" text-anchor="middle" stroke="#ffe3e3" stroke-width="0.28">*</text>
<text x="1303.59" y="244.97" font-size="31" fill="#111" text-anchor="middle" stroke="#ffd4d4" stroke-width="0.28">*</text>
<text x="1342.49" y="243.77" font-size="29" fill="#1c1a00" text-anchor="middle" stroke="#cdbb2a" stroke-opacity="0.85" stroke-width="1.7" paint-order="stroke">*</text>
<text x="720.25" y="284.06" font-size="31" fill="#111" text-anchor="middle" stroke="#ffe6e6" stroke-width="0.28">*</text>
<text x="759.14" y="284.06" font-size="31" fill="#111" text-anchor="middle" stroke="#ffb0b0" stroke-width="0.28">**</text>
<text x="798.03" y="284.06" font-size="31" fill="#111" text-anchor="middle" stroke="#ff6161" stroke-width="0.28">***</text>
<text x="836.92" y="284.06" font-size="31" fill="#111" text-anchor="middle" stroke="#ffb5b5" stroke-width="0.28">**</text>
<text x="914.7" y="284.06" font-size="31" fill="#111" text-anchor="middle" stroke="#ffb5b5" stroke-width="0.28">**</text>
<text x="1186.92" y="284.06" font-size="31" fill="#111" text-anchor="middle" stroke="#ffe3e3" stroke-width="0.28">*</text>
<text x="1303.59" y="284.06" font-size="31" fill="#111" text-anchor="middle" stroke="#ffd4d4" stroke-width="0.28">*</text>
<text x="759.14" y="321.85" font-size="31" fill="#111" text-anchor="middle" stroke="#ffcfcf" stroke-width="0.28">*</text>
<text x="798.03" y="321.85" font-size="31" fill="#111" text-anchor="middle" stroke="#ffd9d9" stroke-width="0.28">*</text>
<text x="914.7" y="321.85" font-size="31" fill="#111" text-anchor="middle" stroke="#ffd9d9" stroke-width="0.28">*</text>
<text x="1303.59" y="321.85" font-size="31" fill="#111" text-anchor="middle" stroke="#ffdede" stroke-width="0.28">*</text>
<text x="1342.49" y="320.65" font-size="29" fill="#1c1a00" text-anchor="middle" stroke="#cdbb2a" stroke-opacity="0.85" stroke-width="1.7" paint-order="stroke">*</text>
<text x="720.25" y="361.84" font-size="31" fill="#111" text-anchor="middle" stroke="#ff8787" stroke-width="0.28">***</text>
<text x="759.14" y="361.84" font-size="31" fill="#111" text-anchor="middle" stroke="#ffd9d9" stroke-width="0.28">*</text>
<text x="798.03" y="361.84" font-size="31" fill="#111" text-anchor="middle" stroke="#ffabab" stroke-width="0.28">**</text>
<text x="914.7" y="361.84" font-size="31" fill="#111" text-anchor="middle" stroke="#ffd9d9" stroke-width="0.28">*</text>
<text x="953.59" y="361.84" font-size="31" fill="#111" text-anchor="middle" stroke="#ffdede" stroke-width="0.28">*</text>
<text x="1070.25" y="361.84" font-size="31" fill="#111" text-anchor="middle" stroke="#ff8c8c" stroke-width="0.28">***</text>
<text x="1109.14" y="361.84" font-size="31" fill="#111" text-anchor="middle" stroke="#ffdede" stroke-width="0.28">*</text>
<text x="1186.92" y="361.84" font-size="31" fill="#111" text-anchor="middle" stroke="#ffc9c9" stroke-width="0.28">*</text>
<text x="1420.26" y="360.64" font-size="29" fill="#1c1a00" text-anchor="middle" stroke="#cdbb2a" stroke-opacity="0.85" stroke-width="1.7" paint-order="stroke">**</text>
<text x="720.25" y="397.93" font-size="31" fill="#111" text-anchor="middle" stroke="#ffd4d4" stroke-width="0.28">*</text>
<text x="798.03" y="397.93" font-size="31" fill="#111" text-anchor="middle" stroke="#ff0505" stroke-width="0.28">***</text>
<text x="953.59" y="397.93" font-size="31" fill="#111" text-anchor="middle" stroke="#ffe3e3" stroke-width="0.28">*</text>
<text x="1070.25" y="397.93" font-size="31" fill="#111" text-anchor="middle" stroke="#ff6161" stroke-width="0.28">***</text>
<text x="1148.03" y="397.93" font-size="31" fill="#111" text-anchor="middle" stroke="#ff9696" stroke-width="0.28">***</text>
<text x="1186.92" y="397.93" font-size="31" fill="#111" text-anchor="middle" stroke="#ffb0b0" stroke-width="0.28">**</text>
<text x="1303.59" y="397.93" font-size="31" fill="#111" text-anchor="middle" stroke="#ffb0b0" stroke-width="0.28">**</text>
<text x="1498.05" y="396.73" font-size="29" fill="#1c1a00" text-anchor="middle" stroke="#cdbb2a" stroke-opacity="0.85" stroke-width="1.7" paint-order="stroke">*</text>
<text x="720.25" y="439.42" font-size="31" fill="#111" text-anchor="middle" stroke="#ff6666" stroke-width="0.28">***</text>
<text x="759.14" y="439.42" font-size="31" fill="#111" text-anchor="middle" stroke="#ff7373" stroke-width="0.28">***</text>
<text x="914.7" y="439.42" font-size="31" fill="#111" text-anchor="middle" stroke="#ffc9c9" stroke-width="0.28">*</text>
<text x="953.59" y="439.42" font-size="31" fill="#111" text-anchor="middle" stroke="#ffdbdb" stroke-width="0.28">*</text>
<text x="1225.82" y="439.42" font-size="31" fill="#111" text-anchor="middle" stroke="#ffe6e6" stroke-width="0.28">*</text>
<text x="720.25" y="478.01" font-size="31" fill="#111" text-anchor="middle" stroke="#ffcfcf" stroke-width="0.28">*</text>
<text x="759.14" y="478.01" font-size="31" fill="#111" text-anchor="middle" stroke="#ff0808" stroke-width="0.28">***</text>
<text x="953.59" y="478.01" font-size="31" fill="#111" text-anchor="middle" stroke="#ff2424" stroke-width="0.28">***</text>
<text x="720.25" y="555.49" font-size="31" fill="#111" text-anchor="middle" stroke="#ff7878" stroke-width="0.28">***</text>
<text x="798.03" y="555.49" font-size="31" fill="#111" text-anchor="middle" stroke="#ffbaba" stroke-width="0.28">**</text>
<text x="875.81" y="555.49" font-size="31" fill="#111" text-anchor="middle" stroke="#ffcfcf" stroke-width="0.28">*</text>
<text x="953.59" y="555.49" font-size="31" fill="#111" text-anchor="middle" stroke="#ffb5b5" stroke-width="0.28">**</text>
<text x="1070.25" y="555.49" font-size="31" fill="#111" text-anchor="middle" stroke="#ffbfbf" stroke-width="0.28">**</text>
<text x="798.03" y="593.78" font-size="31" fill="#111" text-anchor="middle" stroke="#ff1f1f" stroke-width="0.28">***</text>
<text x="1070.25" y="593.78" font-size="31" fill="#111" text-anchor="middle" stroke="#ff9696" stroke-width="0.28">***</text>
<text x="1148.03" y="593.78" font-size="31" fill="#111" text-anchor="middle" stroke="#ff9c9c" stroke-width="0.28">***</text>
<text x="1303.59" y="593.78" font-size="31" fill="#111" text-anchor="middle" stroke="#ffbaba" stroke-width="0.28">**</text>
<text x="720.25" y="630.77" font-size="29" fill="#1c1a00" text-anchor="middle" stroke="#cdbb2a" stroke-opacity="0.85" stroke-width="1.7" paint-order="stroke">*</text>
<text x="798.03" y="630.77" font-size="29" fill="#1c1a00" text-anchor="middle" stroke="#cdbb2a" stroke-opacity="0.85" stroke-width="1.7" paint-order="stroke">*</text>
<text x="1070.25" y="630.77" font-size="29" fill="#1c1a00" text-anchor="middle" stroke="#cdbb2a" stroke-opacity="0.85" stroke-width="1.7" paint-order="stroke">*</text>
<text x="1109.14" y="630.77" font-size="29" fill="#1c1a00" text-anchor="middle" stroke="#cdbb2a" stroke-opacity="0.85" stroke-width="1.7" paint-order="stroke">*</text>
<text x="1420.26" y="631.97" font-size="31" fill="#111" text-anchor="middle" stroke="#ffd4d4" stroke-width="0.28">*</text>
<text x="1459.15" y="631.97" font-size="31" fill="#111" text-anchor="middle" stroke="#ff7d7d" stroke-width="0.28">***</text>
<text x="695.6" y="120.05" font-size="18.8" fill="#56237f" text-anchor="end" stroke="#56237f" stroke-width="0.25">K00014</text>
<text x="1524.3" y="120.05" font-size="18.6" fill="#111" font-style="italic" stroke="#111" stroke-width="0.2">aroE</text>
<text x="695.6" y="156.53" font-size="18.8" fill="#56237f" text-anchor="end" stroke="#56237f" stroke-width="0.25">K00800</text>
<text x="1524.3" y="156.53" font-size="18.6" fill="#111" font-style="italic" stroke="#111" stroke-width="0.2">aroA</text>
<text x="695.6" y="193.53" font-size="18.8" fill="#56237f" text-anchor="end" stroke="#56237f" stroke-width="0.25">K01609</text>
<text x="1524.3" y="193.53" font-size="18.6" fill="#111" font-style="italic" stroke="#111" stroke-width="0.2">trpC</text>
<text x="695.6" y="232.11" font-size="18.8" fill="#56237f" text-anchor="end" stroke="#56237f" stroke-width="0.25">K01657</text>
<text x="1524.3" y="232.11" font-size="18.6" fill="#111" font-style="italic" stroke="#111" stroke-width="0.2">trpE</text>
<text x="695.6" y="271.31" font-size="18.8" fill="#56237f" text-anchor="end" stroke="#56237f" stroke-width="0.25">K01658</text>
<text x="1524.3" y="271.31" font-size="18.6" fill="#111" font-style="italic" stroke="#111" stroke-width="0.2">trpG</text>
<text x="695.6" y="309.4" font-size="18.8" fill="#56237f" text-anchor="end" stroke="#56237f" stroke-width="0.25">K01695</text>
<text x="1524.3" y="309.4" font-size="18.6" fill="#111" font-style="italic" stroke="#111" stroke-width="0.2">trpA</text>
<text x="695.6" y="349.29" font-size="18.8" fill="#56237f" text-anchor="end" stroke="#56237f" stroke-width="0.25">K01735</text>
<text x="1524.3" y="349.29" font-size="18.6" fill="#111" font-style="italic" stroke="#111" stroke-width="0.2">aroB</text>
<text x="695.6" y="386.58" font-size="18.8" fill="#56237f" text-anchor="end" stroke="#56237f" stroke-width="0.25">K06001</text>
<text x="1524.3" y="386.58" font-size="18.6" fill="#111" font-style="italic" stroke="#111" stroke-width="0.2">trpB</text>
<text x="695.6" y="427.26" font-size="18.8" fill="#56237f" text-anchor="end" stroke="#56237f" stroke-width="0.25">K06209</text>
<text x="1524.3" y="427.26" font-size="18.6" fill="#111" font-style="italic" stroke="#111" stroke-width="0.2">pheB</text>
<text x="695.6" y="467.75" font-size="18.8" fill="#56237f" text-anchor="end" stroke="#56237f" stroke-width="0.25">K01666</text>
<text x="1524.3" y="467.75" font-size="18.6" fill="#111" font-style="italic" stroke="#111" stroke-width="0.2">mhpE</text>
<text x="695.6" y="504.55" font-size="18.8" fill="#56237f" text-anchor="end" stroke="#56237f" stroke-width="0.25">K00817</text>
<text x="1524.3" y="504.55" font-size="18.6" fill="#111" font-style="italic" stroke="#111" stroke-width="0.2">hisC</text>
<text x="695.6" y="542.94" font-size="18.8" fill="#56237f" text-anchor="end" stroke="#56237f" stroke-width="0.25">K01915</text>
<text x="1524.3" y="542.94" font-size="18.6" fill="#111" font-style="italic" stroke="#111" stroke-width="0.2">glnA</text>
<text x="695.6" y="583.63" font-size="18.8" fill="#56237f" text-anchor="end" stroke="#56237f" stroke-width="0.25">K00262</text>
<text x="1524.3" y="583.63" font-size="18.6" fill="#111" font-style="italic" stroke="#111" stroke-width="0.2">glutamate dehydrogenase</text>
<text x="695.6" y="620.82" font-size="18.8" fill="#17933f" text-anchor="end" stroke="#17933f" stroke-width="0.25">K00055</text>
<text x="1524.3" y="620.82" font-size="18.6" fill="#111" font-style="italic" stroke="#111" stroke-width="0.2">aryl-alcohol dehydrogenase</text>
<text x="731.05" y="643.46" font-size="18.4" fill="#56237f" text-anchor="end" font-style="italic" transform="rotate(-45 731.05 643.46)" stroke="#56237f" stroke-width="0.3">Faecalibacterium</text>
<text x="765.54" y="643.46" font-size="18.4" fill="#56237f" text-anchor="end" font-style="italic" transform="rotate(-45 765.54 643.46)" stroke="#56237f" stroke-width="0.3">Roseburia</text>
<text x="805.93" y="643.46" font-size="18.4" fill="#56237f" text-anchor="end" font-style="italic" transform="rotate(-45 805.93 643.46)" stroke="#56237f" stroke-width="0.3">Bacteroides</text>
<text x="843.32" y="643.46" font-size="18.4" fill="#56237f" text-anchor="end" font-style="italic" transform="rotate(-45 843.32 643.46)" stroke="#56237f" stroke-width="0.3">Blautia</text>
<text x="881.21" y="643.46" font-size="18.4" fill="#56237f" text-anchor="end" font-style="italic" transform="rotate(-45 881.21 643.46)" stroke="#56237f" stroke-width="0.3">Gemmiger</text>
<text x="921.1" y="643.46" font-size="18.4" fill="#56237f" text-anchor="end" font-style="italic" transform="rotate(-45 921.1 643.46)" stroke="#56237f" stroke-width="0.3">Coprococcus</text>
<text x="961.99" y="643.46" font-size="18.4" fill="#56237f" text-anchor="end" font-style="italic" transform="rotate(-45 961.99 643.46)" stroke="#56237f" stroke-width="0.3">Ruminococcus</text>
<text x="1000.88" y="643.46" font-size="18.4" fill="#56237f" text-anchor="end" font-style="italic" transform="rotate(-45 1000.88 643.46)" stroke="#56237f" stroke-width="0.3">Staphylococcus</text>
<text x="1039.77" y="643.46" font-size="18.4" fill="#56237f" text-anchor="end" font-style="italic" transform="rotate(-45 1039.77 643.46)" stroke="#56237f" stroke-width="0.3">Dialister</text>
<text x="1079.15" y="643.46" font-size="18.4" fill="#56237f" text-anchor="end" font-style="italic" transform="rotate(-45 1079.15 643.46)" stroke="#56237f" stroke-width="0.3">Oscillospira</text>
<text x="1111.05" y="643.46" font-size="18.4" fill="#56237f" text-anchor="end" font-style="italic" transform="rotate(-45 1111.05 643.46)" stroke="#56237f" stroke-width="0.3">Dorea</text>
<text x="1152.03" y="643.46" font-size="18.4" fill="#56237f" text-anchor="end" font-style="italic" transform="rotate(-45 1152.03 643.46)" stroke="#56237f" stroke-width="0.3">Parabacteroides</text>
<text x="1193.83" y="643.46" font-size="18.4" fill="#56237f" text-anchor="end" font-style="italic" transform="rotate(-45 1193.83 643.46)" stroke="#56237f" stroke-width="0.3">Anaerostipes</text>
<text x="1231.72" y="643.46" font-size="18.4" fill="#56237f" text-anchor="end" font-style="italic" transform="rotate(-45 1231.72 643.46)" stroke="#56237f" stroke-width="0.3">Desulfovibrio</text>
<text x="1268.61" y="643.46" font-size="18.4" fill="#56237f" text-anchor="end" font-style="italic" transform="rotate(-45 1268.61 643.46)" stroke="#56237f" stroke-width="0.3">Adlercreutzia</text>
<text x="1308.79" y="643.46" font-size="18.4" fill="#56237f" text-anchor="end" font-style="italic" transform="rotate(-45 1308.79 643.46)" stroke="#56237f" stroke-width="0.3">Lachnospira</text>
<text x="1344.69" y="643.46" font-size="18.4" fill="#17933f" text-anchor="end" font-style="italic" transform="rotate(-45 1344.69 643.46)" stroke="#17933f" stroke-width="0.3">Enterococcus</text>
<text x="1388.98" y="643.46" font-size="18.4" fill="#17933f" text-anchor="end" font-style="italic" transform="rotate(-45 1388.98 643.46)" stroke="#17933f" stroke-width="0.3">Melissococcus</text>
<text x="1424.26" y="643.46" font-size="18.4" fill="#17933f" text-anchor="end" font-style="italic" transform="rotate(-45 1424.26 643.46)" stroke="#17933f" stroke-width="0.3">Rhodobacter</text>
<text x="1463.76" y="643.46" font-size="18.4" fill="#17933f" text-anchor="end" font-style="italic" transform="rotate(-45 1463.76 643.46)" stroke="#17933f" stroke-width="0.3">Pediococcus</text>
<text x="1504.75" y="643.46" font-size="18.4" fill="#17933f" text-anchor="end" font-style="italic" transform="rotate(-45 1504.75 643.46)" stroke="#17933f" stroke-width="0.3">Parvimonas</text>
<text x="1518" y="81" font-size="18.7" fill="#111" text-anchor="end">Pearson’s correlation</text>
<defs><linearGradient id="cb" x1="0" y1="0" x2="0" y2="1"><stop offset="0" stop-color="#ff0000"/><stop offset="0.5" stop-color="#ffffff"/><stop offset="1" stop-color="#0000ff"/></linearGradient></defs>
<rect x="1586.5" y="89.8" width="16.4" height="234" fill="url(#cb)"/>
<text x="1609" y="118.3" font-size="18.3" fill="#111">0.6</text>
<text x="1609" y="164.5" font-size="18.3" fill="#111">0.4</text>
<text x="1609" y="210.8" font-size="18.3" fill="#111">0.2</text>
<text x="1609" y="256.3" font-size="18.3" fill="#111">0</text>
<text x="1609" y="303" font-size="18.3" fill="#111">−0.2</text>
</g>
<g id="panelC">
<text x="3.4" y="837" font-size="30.4" fill="#000" font-weight="bold">C</text>
<text x="840.5" y="850.3" font-size="21.8" fill="#111" text-anchor="middle" font-weight="bold">14 PAGln-synthesis related enzyme genes</text>
<line x1="116.5" y1="1590.7" x2="123.9" y2="1590.7" stroke="#222" stroke-width="1.4" />
<text x="111.2" y="1599.3" font-size="19.4" fill="#222" text-anchor="end" letter-spacing="-0.35">0</text>
<line x1="116.5" y1="1451.3" x2="123.9" y2="1451.3" stroke="#222" stroke-width="1.4" />
<text x="111.2" y="1459.9" font-size="19.4" fill="#222" text-anchor="end" letter-spacing="-0.35">500</text>
<line x1="116.5" y1="1311.9" x2="123.9" y2="1311.9" stroke="#222" stroke-width="1.4" />
<text x="111.2" y="1320.5" font-size="19.4" fill="#222" text-anchor="end" letter-spacing="-0.35">1000</text>
<line x1="116.5" y1="1172.5" x2="123.9" y2="1172.5" stroke="#222" stroke-width="1.4" />
<text x="111.2" y="1181.1" font-size="19.4" fill="#222" text-anchor="end" letter-spacing="-0.35">1500</text>
<line x1="116.5" y1="1033.1" x2="123.9" y2="1033.1" stroke="#222" stroke-width="1.4" />
<text x="111.2" y="1041.7" font-size="19.4" fill="#222" text-anchor="end" letter-spacing="-0.35">2000</text>
<line x1="116.5" y1="893.7" x2="123.9" y2="893.7" stroke="#222" stroke-width="1.4" />
<text x="111.2" y="902.3" font-size="19.4" fill="#222" text-anchor="end" letter-spacing="-0.35">2500</text>
<text x="48.9" y="1259.7" font-size="21.8" fill="#111" text-anchor="middle" font-weight="bold" transform="rotate(-90 48.9 1259.7)">Relative abundance</text>
<line x1="180.9" y1="1625.2" x2="180.9" y2="1632.2" stroke="#222" stroke-width="1.4" />
<text x="184.1" y="1654.8" font-size="18.5" fill="#111" text-anchor="middle" font-style="italic" stroke="#111" stroke-width="0.2">aroE</text>
<line x1="277.9" y1="1625.2" x2="277.9" y2="1632.2" stroke="#222" stroke-width="1.4" />
<text x="280.7" y="1654.8" font-size="18.5" fill="#111" text-anchor="middle" font-style="italic" stroke="#111" stroke-width="0.2">aroA</text>
<line x1="374.9" y1="1625.2" x2="374.9" y2="1632.2" stroke="#222" stroke-width="1.4" />
<text x="372.9" y="1654.8" font-size="18.5" fill="#111" text-anchor="middle" font-style="italic" stroke="#111" stroke-width="0.2">hisC</text>
<line x1="471.9" y1="1625.2" x2="471.9" y2="1632.2" stroke="#222" stroke-width="1.4" />
<text x="468" y="1654.8" font-size="18.5" fill="#111" text-anchor="middle" font-style="italic" stroke="#111" stroke-width="0.2">trpC</text>
<line x1="568.9" y1="1625.2" x2="568.9" y2="1632.2" stroke="#222" stroke-width="1.4" />
<text x="566.6" y="1654.8" font-size="18.5" fill="#111" text-anchor="middle" font-style="italic" stroke="#111" stroke-width="0.2">trpE</text>
<line x1="665.9" y1="1625.2" x2="665.9" y2="1632.2" stroke="#222" stroke-width="1.4" />
<text x="663.8" y="1654.8" font-size="18.5" fill="#111" text-anchor="middle" font-style="italic" stroke="#111" stroke-width="0.2">trpG</text>
<line x1="762.9" y1="1625.2" x2="762.9" y2="1632.2" stroke="#222" stroke-width="1.4" />
<text x="761.9" y="1654.8" font-size="18.5" fill="#111" text-anchor="middle" font-style="italic" stroke="#111" stroke-width="0.2">trpA</text>
<line x1="859.9" y1="1625.2" x2="859.9" y2="1632.2" stroke="#222" stroke-width="1.4" />
<text x="857.7" y="1654.8" font-size="18.5" fill="#111" text-anchor="middle" font-style="italic" stroke="#111" stroke-width="0.2">aroB</text>
<line x1="956.9" y1="1625.2" x2="956.9" y2="1632.2" stroke="#222" stroke-width="1.4" />
<text x="955.6" y="1654.8" font-size="18.5" fill="#111" text-anchor="middle" font-style="italic" stroke="#111" stroke-width="0.2">trpB</text>
<line x1="1053.9" y1="1625.2" x2="1053.9" y2="1632.2" stroke="#222" stroke-width="1.4" />
<text x="1053.9" y="1654.8" font-size="18.5" fill="#111" text-anchor="middle" font-style="italic" stroke="#111" stroke-width="0.2">pheB</text>
<line x1="1150.9" y1="1625.2" x2="1150.9" y2="1632.2" stroke="#222" stroke-width="1.4" />
<text x="1149.9" y="1654.8" font-size="18.5" fill="#111" text-anchor="middle" font-style="italic" stroke="#111" stroke-width="0.2">aryl-alcohol</text>
<text x="1149.9" y="1676.5" font-size="18.5" fill="#111" text-anchor="middle" font-style="italic" stroke="#111" stroke-width="0.2">dehydrogenase</text>
<line x1="1247.9" y1="1625.2" x2="1247.9" y2="1632.2" stroke="#222" stroke-width="1.4" />
<text x="1252.2" y="1654.8" font-size="18.5" fill="#111" text-anchor="middle" font-style="italic" stroke="#111" stroke-width="0.2">mhpE</text>
<line x1="1344.9" y1="1625.2" x2="1344.9" y2="1632.2" stroke="#222" stroke-width="1.4" />
<text x="1346.9" y="1654.8" font-size="18.5" fill="#111" text-anchor="middle" font-style="italic" stroke="#111" stroke-width="0.2">glnA</text>
<line x1="1441.9" y1="1625.2" x2="1441.9" y2="1632.2" stroke="#222" stroke-width="1.4" />
<text x="1441.4" y="1654.8" font-size="18.5" fill="#111" text-anchor="middle" font-style="italic" stroke="#111" stroke-width="0.2">glutamate</text>
<text x="1441.4" y="1676.5" font-size="18.5" fill="#111" text-anchor="middle" font-style="italic" stroke="#111" stroke-width="0.2">dehydrogenase</text>
<line x1="154.75" y1="1232.4" x2="154.75" y2="1322.7" stroke="#1c1c1c" stroke-width="1.7" />
<line x1="154.75" y1="1391.5" x2="154.75" y2="1494.3" stroke="#1c1c1c" stroke-width="1.7" />
<rect x="143.35" y="1322.7" width="22.8" height="68.8" fill="#7dca9a" stroke="#1c1c1c" stroke-width="1.7"/>
<line x1="142.55" y1="1341.7" x2="166.95" y2="1341.7" stroke="#000" stroke-width="2.4" />
<circle cx="154.75" cy="1121.8" r="4.55" fill="#000" fill-opacity="0.7"/>
<circle cx="154.75" cy="1175.8" r="4.55" fill="#000" fill-opacity="0.7"/>
<circle cx="154.75" cy="1515.2" r="4.55" fill="#000" fill-opacity="0.7"/>
<line x1="180.9" y1="1238.1" x2="180.9" y2="1298.3" stroke="#1c1c1c" stroke-width="1.7" />
<line x1="180.9" y1="1342.4" x2="180.9" y2="1356.4" stroke="#1c1c1c" stroke-width="1.7" />
<rect x="169.5" y="1298.3" width="22.8" height="44.1" fill="#b0a3d0" stroke="#1c1c1c" stroke-width="1.7"/>
<line x1="168.7" y1="1315.1" x2="193.1" y2="1315.1" stroke="#000" stroke-width="2.4" />
<circle cx="180.9" cy="1097.6" r="4.55" fill="#000" fill-opacity="0.7"/>
<circle cx="180.9" cy="1223.6" r="4.55" fill="#000" fill-opacity="0.7"/>
<circle cx="180.9" cy="1420.5" r="4.55" fill="#000" fill-opacity="0.7"/>
<circle cx="180.9" cy="1444.8" r="4.55" fill="#000" fill-opacity="0.7"/>
<circle cx="180.9" cy="1463.2" r="4.55" fill="#000" fill-opacity="0.7"/>
<line x1="207.05" y1="1257.3" x2="207.05" y2="1290.7" stroke="#1c1c1c" stroke-width="1.7" />
<line x1="207.05" y1="1333.4" x2="207.05" y2="1383.8" stroke="#1c1c1c" stroke-width="1.7" />
<rect x="195.65" y="1290.7" width="22.8" height="42.7" fill="#f5b54c" stroke="#1c1c1c" stroke-width="1.7"/>
<line x1="194.85" y1="1322.7" x2="219.25" y2="1322.7" stroke="#000" stroke-width="2.4" />
<circle cx="207.05" cy="1163.9" r="4.55" fill="#000" fill-opacity="0.7"/>
<circle cx="207.05" cy="1176.5" r="4.55" fill="#000" fill-opacity="0.7"/>
<line x1="251.75" y1="1341.8" x2="251.75" y2="1373.2" stroke="#1c1c1c" stroke-width="1.7" />
<line x1="251.75" y1="1426.5" x2="251.75" y2="1492.6" stroke="#1c1c1c" stroke-width="1.7" />
<rect x="240.35" y="1373.2" width="22.8" height="53.3" fill="#7dca9a" stroke="#1c1c1c" stroke-width="1.7"/>
<line x1="239.55" y1="1399.4" x2="263.95" y2="1399.4" stroke="#000" stroke-width="2.4" />
<circle cx="251.75" cy="1534" r="4.55" fill="#000" fill-opacity="0.7"/>
<line x1="277.9" y1="1336.8" x2="277.9" y2="1364" stroke="#1c1c1c" stroke-width="1.7" />
<line x1="277.9" y1="1387.6" x2="277.9" y2="1406.8" stroke="#1c1c1c" stroke-width="1.7" />
<rect x="266.5" y="1364" width="22.8" height="23.6" fill="#b0a3d0" stroke="#1c1c1c" stroke-width="1.7"/>
<line x1="265.7" y1="1372.9" x2="290.1" y2="1372.9" stroke="#000" stroke-width="2.4" />
<circle cx="277.9" cy="1442.1" r="4.55" fill="#000" fill-opacity="0.7"/>
<circle cx="277.9" cy="1471.3" r="4.55" fill="#000" fill-opacity="0.7"/>
<circle cx="277.9" cy="1484.6" r="4.55" fill="#000" fill-opacity="0.7"/>
<circle cx="277.9" cy="1484.6" r="4.55" fill="#000" fill-opacity="0.7"/>
<line x1="304.05" y1="1338.5" x2="304.05" y2="1362.2" stroke="#1c1c1c" stroke-width="1.7" />
<line x1="304.05" y1="1383" x2="304.05" y2="1402.8" stroke="#1c1c1c" stroke-width="1.7" />
<rect x="292.65" y="1362.2" width="22.8" height="20.8" fill="#f5b54c" stroke="#1c1c1c" stroke-width="1.7"/>
<line x1="291.85" y1="1373.6" x2="316.25" y2="1373.6" stroke="#000" stroke-width="2.4" />
<circle cx="304.05" cy="1331.8" r="4.55" fill="#000" fill-opacity="0.7"/>
<circle cx="304.05" cy="1427.2" r="4.55" fill="#000" fill-opacity="0.7"/>
<line x1="348.75" y1="1269.4" x2="348.75" y2="1359.5" stroke="#1c1c1c" stroke-width="1.7" />
<line x1="348.75" y1="1422.9" x2="348.75" y2="1498.2" stroke="#1c1c1c" stroke-width="1.7" />
<rect x="337.35" y="1359.5" width="22.8" height="63.4" fill="#7dca9a" stroke="#1c1c1c" stroke-width="1.7"/>
<line x1="336.55" y1="1396" x2="360.95" y2="1396" stroke="#000" stroke-width="2.4" />
<circle cx="348.75" cy="1546.7" r="4.55" fill="#000" fill-opacity="0.7"/>
<line x1="374.9" y1="1323.1" x2="374.9" y2="1358.6" stroke="#1c1c1c" stroke-width="1.7" />
<line x1="374.9" y1="1386.7" x2="374.9" y2="1411.2" stroke="#1c1c1c" stroke-width="1.7" />
<rect x="363.5" y="1358.6" width="22.8" height="28.1" fill="#b0a3d0" stroke="#1c1c1c" stroke-width="1.7"/>
<line x1="362.7" y1="1372.4" x2="387.1" y2="1372.4" stroke="#000" stroke-width="2.4" />
<circle cx="374.9" cy="1445.3" r="4.55" fill="#000" fill-opacity="0.7"/>
<circle cx="374.9" cy="1451.3" r="4.55" fill="#000" fill-opacity="0.7"/>
<circle cx="374.9" cy="1466.4" r="4.55" fill="#000" fill-opacity="0.7"/>
<circle cx="374.9" cy="1480.9" r="4.55" fill="#000" fill-opacity="0.7"/>
<line x1="401.05" y1="1330.1" x2="401.05" y2="1355.9" stroke="#1c1c1c" stroke-width="1.7" />
<line x1="401.05" y1="1375" x2="401.05" y2="1392.5" stroke="#1c1c1c" stroke-width="1.7" />
<rect x="389.65" y="1355.9" width="22.8" height="19.1" fill="#f5b54c" stroke="#1c1c1c" stroke-width="1.7"/>
<line x1="388.85" y1="1368.3" x2="413.25" y2="1368.3" stroke="#000" stroke-width="2.4" />
<circle cx="401.05" cy="1315.2" r="4.55" fill="#000" fill-opacity="0.7"/>
<circle cx="401.05" cy="1321.4" r="4.55" fill="#000" fill-opacity="0.7"/>
<circle cx="401.05" cy="1409" r="4.55" fill="#000" fill-opacity="0.7"/>
<line x1="445.75" y1="1397.2" x2="445.75" y2="1451" stroke="#1c1c1c" stroke-width="1.7" />
<line x1="445.75" y1="1520.2" x2="445.75" y2="1576.6" stroke="#1c1c1c" stroke-width="1.7" />
<rect x="434.35" y="1451" width="22.8" height="69.2" fill="#7dca9a" stroke="#1c1c1c" stroke-width="1.7"/>
<line x1="433.55" y1="1478.9" x2="457.95" y2="1478.9" stroke="#000" stroke-width="2.4" />
<line x1="471.9" y1="1412" x2="471.9" y2="1438.4" stroke="#1c1c1c" stroke-width="1.7" />
<line x1="471.9" y1="1502.5" x2="471.9" y2="1582.1" stroke="#1c1c1c" stroke-width="1.7" />
<rect x="460.5" y="1438.4" width="22.8" height="64.1" fill="#b0a3d0" stroke="#1c1c1c" stroke-width="1.7"/>
<line x1="459.7" y1="1458.4" x2="484.1" y2="1458.4" stroke="#000" stroke-width="2.4" />
<line x1="498.05" y1="1405.3" x2="498.05" y2="1417.2" stroke="#1c1c1c" stroke-width="1.7" />
<line x1="498.05" y1="1454" x2="498.05" y2="1506.9" stroke="#1c1c1c" stroke-width="1.7" />
<rect x="486.65" y="1417.2" width="22.8" height="36.8" fill="#f5b54c" stroke="#1c1c1c" stroke-width="1.7"/>
<line x1="485.85" y1="1429.9" x2="510.25" y2="1429.9" stroke="#000" stroke-width="2.4" />
<circle cx="498.05" cy="1511" r="4.55" fill="#000" fill-opacity="0.7"/>
<circle cx="498.05" cy="1516" r="4.55" fill="#000" fill-opacity="0.7"/>
<circle cx="498.05" cy="1516" r="4.55" fill="#000" fill-opacity="0.7"/>
<line x1="542.75" y1="1396.1" x2="542.75" y2="1423.4" stroke="#1c1c1c" stroke-width="1.7" />
<line x1="542.75" y1="1477.7" x2="542.75" y2="1539.8" stroke="#1c1c1c" stroke-width="1.7" />
<rect x="531.35" y="1423.4" width="22.8" height="54.3" fill="#7dca9a" stroke="#1c1c1c" stroke-width="1.7"/>
<line x1="530.55" y1="1457.9" x2="554.95" y2="1457.9" stroke="#000" stroke-width="2.4" />
<line x1="568.9" y1="1374.9" x2="568.9" y2="1403.9" stroke="#1c1c1c" stroke-width="1.7" />
<line x1="568.9" y1="1442.1" x2="568.9" y2="1498.2" stroke="#1c1c1c" stroke-width="1.7" />
<rect x="557.5" y="1403.9" width="22.8" height="38.2" fill="#b0a3d0" stroke="#1c1c1c" stroke-width="1.7"/>
<line x1="556.7" y1="1432" x2="581.1" y2="1432" stroke="#000" stroke-width="2.4" />
<circle cx="568.9" cy="1519.1" r="4.55" fill="#000" fill-opacity="0.7"/>
<line x1="595.05" y1="1405.3" x2="595.05" y2="1414.3" stroke="#1c1c1c" stroke-width="1.7" />
<line x1="595.05" y1="1431.3" x2="595.05" y2="1452.9" stroke="#1c1c1c" stroke-width="1.7" />
<rect x="583.65" y="1414.3" width="22.8" height="17" fill="#f5b54c" stroke="#1c1c1c" stroke-width="1.7"/>
<line x1="582.85" y1="1422.3" x2="607.25" y2="1422.3" stroke="#000" stroke-width="2.4" />
<circle cx="595.05" cy="1361.6" r="4.55" fill="#000" fill-opacity="0.7"/>
<circle cx="595.05" cy="1460.2" r="4.55" fill="#000" fill-opacity="0.7"/>
<circle cx="595.05" cy="1464.1" r="4.55" fill="#000" fill-opacity="0.7"/>
<circle cx="595.05" cy="1472.4" r="4.55" fill="#000" fill-opacity="0.7"/>
<circle cx="595.05" cy="1483.2" r="4.55" fill="#000" fill-opacity="0.7"/>
<line x1="639.75" y1="1390.8" x2="639.75" y2="1453.3" stroke="#1c1c1c" stroke-width="1.7" />
<line x1="639.75" y1="1523.7" x2="639.75" y2="1573.6" stroke="#1c1c1c" stroke-width="1.7" />
<rect x="628.35" y="1453.3" width="22.8" height="70.4" fill="#7dca9a" stroke="#1c1c1c" stroke-width="1.7"/>
<line x1="627.55" y1="1479.1" x2="651.95" y2="1479.1" stroke="#000" stroke-width="2.4" />
<line x1="665.9" y1="1390.8" x2="665.9" y2="1433.8" stroke="#1c1c1c" stroke-width="1.7" />
<line x1="665.9" y1="1500.7" x2="665.9" y2="1580.5" stroke="#1c1c1c" stroke-width="1.7" />
<rect x="654.5" y="1433.8" width="22.8" height="66.9" fill="#b0a3d0" stroke="#1c1c1c" stroke-width="1.7"/>
<line x1="653.7" y1="1455.2" x2="678.1" y2="1455.2" stroke="#000" stroke-width="2.4" />
<line x1="692.05" y1="1405.7" x2="692.05" y2="1420.9" stroke="#1c1c1c" stroke-width="1.7" />
<line x1="692.05" y1="1463.4" x2="692.05" y2="1518.9" stroke="#1c1c1c" stroke-width="1.7" />
<rect x="680.65" y="1420.9" width="22.8" height="42.5" fill="#f5b54c" stroke="#1c1c1c" stroke-width="1.7"/>
<line x1="679.85" y1="1437.5" x2="704.25" y2="1437.5" stroke="#000" stroke-width="2.4" />
<circle cx="692.05" cy="1537.9" r="4.55" fill="#000" fill-opacity="0.7"/>
<line x1="736.75" y1="1384.6" x2="736.75" y2="1418.6" stroke="#1c1c1c" stroke-width="1.7" />
<line x1="736.75" y1="1465.1" x2="736.75" y2="1509.2" stroke="#1c1c1c" stroke-width="1.7" />
<rect x="725.35" y="1418.6" width="22.8" height="46.5" fill="#7dca9a" stroke="#1c1c1c" stroke-width="1.7"/>
<line x1="724.55" y1="1449.4" x2="748.95" y2="1449.4" stroke="#000" stroke-width="2.4" />
<circle cx="736.75" cy="1539.5" r="4.55" fill="#000" fill-opacity="0.7"/>
<line x1="762.9" y1="1370.8" x2="762.9" y2="1390.3" stroke="#1c1c1c" stroke-width="1.7" />
<line x1="762.9" y1="1433.6" x2="762.9" y2="1492.6" stroke="#1c1c1c" stroke-width="1.7" />
<rect x="751.5" y="1390.3" width="22.8" height="43.3" fill="#b0a3d0" stroke="#1c1c1c" stroke-width="1.7"/>
<line x1="750.7" y1="1411.5" x2="775.1" y2="1411.5" stroke="#000" stroke-width="2.4" />
<circle cx="762.9" cy="1518.9" r="4.55" fill="#000" fill-opacity="0.7"/>
<line x1="789.05" y1="1393.8" x2="789.05" y2="1406" stroke="#1c1c1c" stroke-width="1.7" />
<line x1="789.05" y1="1424.1" x2="789.05" y2="1437" stroke="#1c1c1c" stroke-width="1.7" />
<rect x="777.65" y="1406" width="22.8" height="18.1" fill="#f5b54c" stroke="#1c1c1c" stroke-width="1.7"/>
<line x1="776.85" y1="1414.3" x2="801.25" y2="1414.3" stroke="#000" stroke-width="2.4" />
<circle cx="789.05" cy="1355.9" r="4.55" fill="#000" fill-opacity="0.7"/>
<circle cx="789.05" cy="1463.9" r="4.55" fill="#000" fill-opacity="0.7"/>
<circle cx="789.05" cy="1463.9" r="4.55" fill="#000" fill-opacity="0.7"/>
<circle cx="789.05" cy="1476.6" r="4.55" fill="#000" fill-opacity="0.7"/>
<circle cx="789.05" cy="1476.6" r="4.55" fill="#000" fill-opacity="0.7"/>
<line x1="833.75" y1="1350.6" x2="833.75" y2="1390.8" stroke="#1c1c1c" stroke-width="1.7" />
<line x1="833.75" y1="1459.5" x2="833.75" y2="1544.1" stroke="#1c1c1c" stroke-width="1.7" />
<rect x="822.35" y="1390.8" width="22.8" height="68.7" fill="#7dca9a" stroke="#1c1c1c" stroke-width="1.7"/>
<line x1="821.55" y1="1426.8" x2="845.95" y2="1426.8" stroke="#000" stroke-width="2.4" />
<line x1="859.9" y1="1354.7" x2="859.9" y2="1376.1" stroke="#1c1c1c" stroke-width="1.7" />
<line x1="859.9" y1="1444.9" x2="859.9" y2="1528.1" stroke="#1c1c1c" stroke-width="1.7" />
<rect x="848.5" y="1376.1" width="22.8" height="68.8" fill="#b0a3d0" stroke="#1c1c1c" stroke-width="1.7"/>
<line x1="847.7" y1="1394.8" x2="872.1" y2="1394.8" stroke="#000" stroke-width="2.4" />
<line x1="886.05" y1="1365.6" x2="886.05" y2="1376.7" stroke="#1c1c1c" stroke-width="1.7" />
<line x1="886.05" y1="1401.1" x2="886.05" y2="1432" stroke="#1c1c1c" stroke-width="1.7" />
<rect x="874.65" y="1376.7" width="22.8" height="24.4" fill="#f5b54c" stroke="#1c1c1c" stroke-width="1.7"/>
<line x1="873.85" y1="1387.2" x2="898.25" y2="1387.2" stroke="#000" stroke-width="2.4" />
<circle cx="886.05" cy="1443.8" r="4.55" fill="#000" fill-opacity="0.7"/>
<circle cx="886.05" cy="1495.2" r="4.55" fill="#000" fill-opacity="0.7"/>
<line x1="930.75" y1="1435.7" x2="930.75" y2="1506.4" stroke="#1c1c1c" stroke-width="1.7" />
<line x1="930.75" y1="1571.3" x2="930.75" y2="1587.2" stroke="#1c1c1c" stroke-width="1.7" />
<rect x="919.35" y="1506.4" width="22.8" height="64.9" fill="#7dca9a" stroke="#1c1c1c" stroke-width="1.7"/>
<line x1="918.55" y1="1545.7" x2="942.95" y2="1545.7" stroke="#000" stroke-width="2.4" />
<circle cx="930.75" cy="1386.9" r="4.55" fill="#000" fill-opacity="0.7"/>
<circle cx="930.75" cy="1408.2" r="4.55" fill="#000" fill-opacity="0.7"/>
<line x1="956.9" y1="1449.7" x2="956.9" y2="1490.2" stroke="#1c1c1c" stroke-width="1.7" />
<line x1="956.9" y1="1560.1" x2="956.9" y2="1586.4" stroke="#1c1c1c" stroke-width="1.7" />
<rect x="945.5" y="1490.2" width="22.8" height="69.9" fill="#b0a3d0" stroke="#1c1c1c" stroke-width="1.7"/>
<line x1="944.7" y1="1531" x2="969.1" y2="1531" stroke="#000" stroke-width="2.4" />
<line x1="983.05" y1="1437.2" x2="983.05" y2="1486.2" stroke="#1c1c1c" stroke-width="1.7" />
<line x1="983.05" y1="1524.1" x2="983.05" y2="1563.9" stroke="#1c1c1c" stroke-width="1.7" />
<rect x="971.65" y="1486.2" width="22.8" height="37.9" fill="#f5b54c" stroke="#1c1c1c" stroke-width="1.7"/>
<line x1="970.85" y1="1502.3" x2="995.25" y2="1502.3" stroke="#000" stroke-width="2.4" />
<line x1="1027.75" y1="1384.5" x2="1027.75" y2="1467" stroke="#1c1c1c" stroke-width="1.7" />
<line x1="1027.75" y1="1548.3" x2="1027.75" y2="1577.7" stroke="#1c1c1c" stroke-width="1.7" />
<rect x="1016.35" y="1467" width="22.8" height="81.3" fill="#7dca9a" stroke="#1c1c1c" stroke-width="1.7"/>
<line x1="1015.55" y1="1500" x2="1039.95" y2="1500" stroke="#000" stroke-width="2.4" />
<circle cx="1027.75" cy="1311.1" r="4.55" fill="#000" fill-opacity="0.7"/>
<line x1="1053.9" y1="1381.7" x2="1053.9" y2="1437.2" stroke="#1c1c1c" stroke-width="1.7" />
<line x1="1053.9" y1="1510.1" x2="1053.9" y2="1583.6" stroke="#1c1c1c" stroke-width="1.7" />
<rect x="1042.5" y="1437.2" width="22.8" height="72.9" fill="#b0a3d0" stroke="#1c1c1c" stroke-width="1.7"/>
<line x1="1041.7" y1="1474.6" x2="1066.1" y2="1474.6" stroke="#000" stroke-width="2.4" />
<line x1="1080.05" y1="1397.6" x2="1080.05" y2="1430.3" stroke="#1c1c1c" stroke-width="1.7" />
<line x1="1080.05" y1="1489.3" x2="1080.05" y2="1544.5" stroke="#1c1c1c" stroke-width="1.7" />
<rect x="1068.65" y="1430.3" width="22.8" height="59" fill="#f5b54c" stroke="#1c1c1c" stroke-width="1.7"/>
<line x1="1067.85" y1="1455.4" x2="1092.25" y2="1455.4" stroke="#000" stroke-width="2.4" />
<line x1="1124.75" y1="1553.3" x2="1124.75" y2="1570.1" stroke="#1c1c1c" stroke-width="1.7" />
<rect x="1113.35" y="1570.1" width="22.8" height="19.4" fill="#7dca9a" stroke="#1c1c1c" stroke-width="1.7"/>
<line x1="1112.55" y1="1586.4" x2="1136.95" y2="1586.4" stroke="#000" stroke-width="2.4" />
<circle cx="1124.75" cy="1502.3" r="4.55" fill="#000" fill-opacity="0.7"/>
<circle cx="1124.75" cy="1522" r="4.55" fill="#000" fill-opacity="0.7"/>
<circle cx="1124.75" cy="1537.4" r="4.55" fill="#000" fill-opacity="0.7"/>
<line x1="1150.9" y1="1581.5" x2="1150.9" y2="1584.3" stroke="#1c1c1c" stroke-width="1.7" />
<rect x="1139.5" y="1584.3" width="22.8" height="5.2" fill="#b0a3d0" stroke="#1c1c1c" stroke-width="1.7"/>
<line x1="1138.7" y1="1588.2" x2="1163.1" y2="1588.2" stroke="#000" stroke-width="2.4" />
<circle cx="1150.9" cy="1496.4" r="4.55" fill="#000" fill-opacity="0.7"/>
<circle cx="1150.9" cy="1554.5" r="4.55" fill="#000" fill-opacity="0.7"/>
<circle cx="1150.9" cy="1556.8" r="4.55" fill="#000" fill-opacity="0.7"/>
<circle cx="1150.9" cy="1559.2" r="4.55" fill="#000" fill-opacity="0.7"/>
<circle cx="1150.9" cy="1560.5" r="4.55" fill="#000" fill-opacity="0.7"/>
<circle cx="1150.9" cy="1577.7" r="4.55" fill="#000" fill-opacity="0.7"/>
<rect x="1165.65" y="1588.4" width="22.8" height="0.8" fill="#f5b54c" stroke="#1c1c1c" stroke-width="1.7"/>
<line x1="1164.85" y1="1588.8" x2="1189.25" y2="1588.8" stroke="#000" stroke-width="2.4" />
<circle cx="1177.05" cy="1543.3" r="4.55" fill="#000" fill-opacity="0.7"/>
<circle cx="1177.05" cy="1564.6" r="4.55" fill="#000" fill-opacity="0.7"/>
<circle cx="1177.05" cy="1580.5" r="4.55" fill="#000" fill-opacity="0.7"/>
<circle cx="1177.05" cy="1588.3" r="4.55" fill="#000" fill-opacity="0.7"/>
<circle cx="1177.05" cy="1588.3" r="4.55" fill="#000" fill-opacity="0.7"/>
<line x1="1221.75" y1="1523.2" x2="1221.75" y2="1555.9" stroke="#1c1c1c" stroke-width="1.7" />
<line x1="1221.75" y1="1583.1" x2="1221.75" y2="1588.3" stroke="#1c1c1c" stroke-width="1.7" />
<rect x="1210.35" y="1555.9" width="22.8" height="27.2" fill="#7dca9a" stroke="#1c1c1c" stroke-width="1.7"/>
<line x1="1209.55" y1="1569.9" x2="1233.95" y2="1569.9" stroke="#000" stroke-width="2.4" />
<circle cx="1221.75" cy="1504.7" r="4.55" fill="#000" fill-opacity="0.7"/>
<line x1="1247.9" y1="1518" x2="1247.9" y2="1550.7" stroke="#1c1c1c" stroke-width="1.7" />
<line x1="1247.9" y1="1577.7" x2="1247.9" y2="1587.6" stroke="#1c1c1c" stroke-width="1.7" />
<rect x="1236.5" y="1550.7" width="22.8" height="27" fill="#b0a3d0" stroke="#1c1c1c" stroke-width="1.7"/>
<line x1="1235.7" y1="1568.9" x2="1260.1" y2="1568.9" stroke="#000" stroke-width="2.4" />
<circle cx="1247.9" cy="1497.8" r="4.55" fill="#000" fill-opacity="0.7"/>
<line x1="1274.05" y1="1492.8" x2="1274.05" y2="1525.3" stroke="#1c1c1c" stroke-width="1.7" />
<line x1="1274.05" y1="1564.2" x2="1274.05" y2="1584.8" stroke="#1c1c1c" stroke-width="1.7" />
<rect x="1262.65" y="1525.3" width="22.8" height="38.9" fill="#f5b54c" stroke="#1c1c1c" stroke-width="1.7"/>
<line x1="1261.85" y1="1550.7" x2="1286.25" y2="1550.7" stroke="#000" stroke-width="2.4" />
<circle cx="1274.05" cy="1416.1" r="4.55" fill="#000" fill-opacity="0.7"/>
<circle cx="1274.05" cy="1462" r="4.55" fill="#000" fill-opacity="0.7"/>
<line x1="1318.75" y1="987" x2="1318.75" y2="1089.8" stroke="#1c1c1c" stroke-width="1.7" />
<line x1="1318.75" y1="1247.1" x2="1318.75" y2="1381" stroke="#1c1c1c" stroke-width="1.7" />
<rect x="1307.35" y="1089.8" width="22.8" height="157.3" fill="#7dca9a" stroke="#1c1c1c" stroke-width="1.7"/>
<line x1="1306.55" y1="1165.4" x2="1330.95" y2="1165.4" stroke="#000" stroke-width="2.4" />
<line x1="1344.9" y1="1009.2" x2="1344.9" y2="1064" stroke="#1c1c1c" stroke-width="1.7" />
<line x1="1344.9" y1="1164.7" x2="1344.9" y2="1310.6" stroke="#1c1c1c" stroke-width="1.7" />
<rect x="1333.5" y="1064" width="22.8" height="100.7" fill="#b0a3d0" stroke="#1c1c1c" stroke-width="1.7"/>
<line x1="1332.7" y1="1114" x2="1357.1" y2="1114" stroke="#000" stroke-width="2.4" />
<circle cx="1344.9" cy="1350.7" r="4.55" fill="#000" fill-opacity="0.7"/>
<circle cx="1344.9" cy="1444.3" r="4.55" fill="#000" fill-opacity="0.7"/>
<line x1="1371.05" y1="998.1" x2="1371.05" y2="1041.9" stroke="#1c1c1c" stroke-width="1.7" />
<line x1="1371.05" y1="1121.3" x2="1371.05" y2="1222.7" stroke="#1c1c1c" stroke-width="1.7" />
<rect x="1359.65" y="1041.9" width="22.8" height="79.4" fill="#f5b54c" stroke="#1c1c1c" stroke-width="1.7"/>
<line x1="1358.85" y1="1080.6" x2="1383.25" y2="1080.6" stroke="#000" stroke-width="2.4" />
<circle cx="1371.05" cy="1285.7" r="4.55" fill="#000" fill-opacity="0.7"/>
<line x1="1415.75" y1="1263.2" x2="1415.75" y2="1355.2" stroke="#1c1c1c" stroke-width="1.7" />
<line x1="1415.75" y1="1441" x2="1415.75" y2="1539.3" stroke="#1c1c1c" stroke-width="1.7" />
<rect x="1404.35" y="1355.2" width="22.8" height="85.8" fill="#7dca9a" stroke="#1c1c1c" stroke-width="1.7"/>
<line x1="1403.55" y1="1388.1" x2="1427.95" y2="1388.1" stroke="#000" stroke-width="2.4" />
<circle cx="1415.75" cy="1209.7" r="4.55" fill="#000" fill-opacity="0.7"/>
<circle cx="1415.75" cy="1216.6" r="4.55" fill="#000" fill-opacity="0.7"/>
<line x1="1441.9" y1="1317.5" x2="1441.9" y2="1345" stroke="#1c1c1c" stroke-width="1.7" />
<line x1="1441.9" y1="1380.3" x2="1441.9" y2="1405.2" stroke="#1c1c1c" stroke-width="1.7" />
<rect x="1430.5" y="1345" width="22.8" height="35.3" fill="#b0a3d0" stroke="#1c1c1c" stroke-width="1.7"/>
<line x1="1429.7" y1="1366.3" x2="1454.1" y2="1366.3" stroke="#000" stroke-width="2.4" />
<circle cx="1441.9" cy="1265.6" r="4.55" fill="#000" fill-opacity="0.7"/>
<circle cx="1441.9" cy="1283.1" r="4.55" fill="#000" fill-opacity="0.7"/>
<circle cx="1441.9" cy="1445" r="4.55" fill="#000" fill-opacity="0.7"/>
<circle cx="1441.9" cy="1458" r="4.55" fill="#000" fill-opacity="0.7"/>
<circle cx="1441.9" cy="1481.7" r="4.55" fill="#000" fill-opacity="0.7"/>
<circle cx="1441.9" cy="1518.9" r="4.55" fill="#000" fill-opacity="0.7"/>
<line x1="1468.05" y1="1273.2" x2="1468.05" y2="1324.6" stroke="#1c1c1c" stroke-width="1.7" />
<line x1="1468.05" y1="1369.4" x2="1468.05" y2="1412.5" stroke="#1c1c1c" stroke-width="1.7" />
<rect x="1456.65" y="1324.6" width="22.8" height="44.8" fill="#f5b54c" stroke="#1c1c1c" stroke-width="1.7"/>
<line x1="1455.85" y1="1353.3" x2="1480.25" y2="1353.3" stroke="#000" stroke-width="2.4" />
<circle cx="1468.05" cy="1442.6" r="4.55" fill="#000" fill-opacity="0.7"/>
<line x1="155.5" y1="1058.2" x2="204" y2="1058.2" stroke="#3a302e" stroke-width="1.9" />
<line x1="155.5" y1="1079.6" x2="182.1" y2="1079.6" stroke="#3a302e" stroke-width="1.9" />
<text x="179.75" y="1063.4" font-size="28.4" fill="#111" text-anchor="middle">**</text>
<text x="168.8" y="1084.8" font-size="28.4" fill="#111" text-anchor="middle">*</text>
<line x1="252.25" y1="1274.6" x2="300.75" y2="1274.6" stroke="#3a302e" stroke-width="1.9" />
<line x1="252.25" y1="1295.7" x2="278.85" y2="1295.7" stroke="#3a302e" stroke-width="1.9" />
<text x="276.5" y="1279.8" font-size="28.4" fill="#111" text-anchor="middle">**</text>
<text x="265.55" y="1300.9" font-size="28.4" fill="#111" text-anchor="middle">*</text>
<line x1="349" y1="1228.6" x2="397.5" y2="1228.6" stroke="#3a302e" stroke-width="1.9" />
<line x1="349" y1="1254.7" x2="375.6" y2="1254.7" stroke="#3a302e" stroke-width="1.9" />
<text x="373.25" y="1233.8" font-size="28.4" fill="#111" text-anchor="middle">**</text>
<text x="362.3" y="1250.2" font-size="19.2" fill="#221c1c" text-anchor="middle" stroke="#221c1c" stroke-width="0.25">ns</text>
<line x1="445.75" y1="1356.8" x2="494.25" y2="1356.8" stroke="#3a302e" stroke-width="1.9" />
<line x1="445.75" y1="1379.8" x2="472.35" y2="1379.8" stroke="#3a302e" stroke-width="1.9" />
<text x="470" y="1362" font-size="28.4" fill="#111" text-anchor="middle">***</text>
<text x="459.05" y="1375.3" font-size="19.2" fill="#221c1c" text-anchor="middle" stroke="#221c1c" stroke-width="0.25">ns</text>
<line x1="542.5" y1="1315.6" x2="591" y2="1315.6" stroke="#3a302e" stroke-width="1.9" />
<line x1="542.5" y1="1335.6" x2="569.1" y2="1335.6" stroke="#3a302e" stroke-width="1.9" />
<text x="566.75" y="1320.8" font-size="28.4" fill="#111" text-anchor="middle">***</text>
<text x="555.8" y="1340.8" font-size="28.4" fill="#111" text-anchor="middle">**</text>
<line x1="639.25" y1="1350.1" x2="687.75" y2="1350.1" stroke="#3a302e" stroke-width="1.9" />
<line x1="639.25" y1="1374.3" x2="665.85" y2="1374.3" stroke="#3a302e" stroke-width="1.9" />
<text x="663.5" y="1355.3" font-size="28.4" fill="#111" text-anchor="middle">**</text>
<text x="652.55" y="1369.8" font-size="19.2" fill="#221c1c" text-anchor="middle" stroke="#221c1c" stroke-width="0.25">ns</text>
<line x1="736" y1="1310.8" x2="784.5" y2="1310.8" stroke="#3a302e" stroke-width="1.9" />
<line x1="736" y1="1332.2" x2="762.6" y2="1332.2" stroke="#3a302e" stroke-width="1.9" />
<text x="760.25" y="1316" font-size="28.4" fill="#111" text-anchor="middle">**</text>
<text x="749.3" y="1337.4" font-size="28.4" fill="#111" text-anchor="middle">**</text>
<line x1="832.75" y1="1296.9" x2="881.25" y2="1296.9" stroke="#3a302e" stroke-width="1.9" />
<line x1="832.75" y1="1322" x2="859.35" y2="1322" stroke="#3a302e" stroke-width="1.9" />
<text x="857" y="1302.1" font-size="28.4" fill="#111" text-anchor="middle">**</text>
<text x="846.05" y="1317.5" font-size="19.2" fill="#221c1c" text-anchor="middle" stroke="#221c1c" stroke-width="0.25">ns</text>
<line x1="929.5" y1="1334.1" x2="978" y2="1334.1" stroke="#3a302e" stroke-width="1.9" />
<line x1="929.5" y1="1358.5" x2="956.1" y2="1358.5" stroke="#3a302e" stroke-width="1.9" />
<text x="953.75" y="1339.3" font-size="28.4" fill="#111" text-anchor="middle">**</text>
<text x="942.8" y="1354" font-size="19.2" fill="#221c1c" text-anchor="middle" stroke="#221c1c" stroke-width="0.25">ns</text>
<line x1="1026.25" y1="1269.6" x2="1074.75" y2="1269.6" stroke="#3a302e" stroke-width="1.9" />
<line x1="1026.25" y1="1294" x2="1052.85" y2="1294" stroke="#3a302e" stroke-width="1.9" />
<text x="1050.5" y="1274.8" font-size="28.4" fill="#111" text-anchor="middle">***</text>
<text x="1039.55" y="1289.5" font-size="19.2" fill="#221c1c" text-anchor="middle" stroke="#221c1c" stroke-width="0.25">ns</text>
<line x1="1123" y1="1419.6" x2="1171.5" y2="1419.6" stroke="#3a302e" stroke-width="1.9" />
<line x1="1123" y1="1439" x2="1149.6" y2="1439" stroke="#3a302e" stroke-width="1.9" />
<text x="1147.25" y="1424.8" font-size="28.4" fill="#111" text-anchor="middle">***</text>
<text x="1136.3" y="1444.2" font-size="28.4" fill="#111" text-anchor="middle">*</text>
<line x1="1219.75" y1="1361.8" x2="1268.25" y2="1361.8" stroke="#3a302e" stroke-width="1.9" />
<line x1="1219.75" y1="1383.8" x2="1246.35" y2="1383.8" stroke="#3a302e" stroke-width="1.9" />
<text x="1244" y="1367" font-size="28.4" fill="#111" text-anchor="middle">***</text>
<text x="1233.05" y="1379.3" font-size="19.2" fill="#221c1c" text-anchor="middle" stroke="#221c1c" stroke-width="0.25">ns</text>
<line x1="1316.5" y1="932.9" x2="1365" y2="932.9" stroke="#3a302e" stroke-width="1.9" />
<line x1="1316.5" y1="955.7" x2="1343.1" y2="955.7" stroke="#3a302e" stroke-width="1.9" />
<text x="1340.75" y="938.1" font-size="28.4" fill="#111" text-anchor="middle">***</text>
<text x="1329.8" y="951.2" font-size="19.2" fill="#221c1c" text-anchor="middle" stroke="#221c1c" stroke-width="0.25">ns</text>
<line x1="1413.25" y1="1143.6" x2="1461.75" y2="1143.6" stroke="#3a302e" stroke-width="1.9" />
<line x1="1413.25" y1="1168.7" x2="1439.85" y2="1168.7" stroke="#3a302e" stroke-width="1.9" />
<text x="1437.5" y="1148.8" font-size="28.4" fill="#111" text-anchor="middle">**</text>
<text x="1426.55" y="1164.2" font-size="19.2" fill="#221c1c" text-anchor="middle" stroke="#221c1c" stroke-width="0.25">ns</text>
<rect x="123.9" y="860.3" width="1376.9" height="764.9" fill="none" stroke="#111" stroke-width="1.9"/>
<line x1="1520" y1="860.9" x2="1520" y2="893.5" stroke="#1c1c1c" stroke-width="2" />
<rect x="1509.8" y="867.6" width="20.4" height="19.2" fill="#7dca9a" stroke="#1c1c1c" stroke-width="2" rx="1.2"/>
<line x1="1509.4" y1="877.2" x2="1530.6" y2="877.2" stroke="#000" stroke-width="2.2" />
<text x="1534.3" y="887.4" font-size="18.8" fill="#111" stroke="#111" stroke-width="0.3">Control</text>
<line x1="1520" y1="899.5" x2="1520" y2="932.1" stroke="#1c1c1c" stroke-width="2" />
<rect x="1509.8" y="906.2" width="20.4" height="19.2" fill="#b0a3d0" stroke="#1c1c1c" stroke-width="2" rx="1.2"/>
<line x1="1509.4" y1="915.8" x2="1530.6" y2="915.8" stroke="#000" stroke-width="2.2" />
<text x="1534.3" y="926" font-size="18.8" fill="#111" stroke="#111" stroke-width="0.3">ISH</text>
<line x1="1520" y1="938" x2="1520" y2="970.6" stroke="#1c1c1c" stroke-width="2" />
<rect x="1509.8" y="944.7" width="20.4" height="19.2" fill="#f5b54c" stroke="#1c1c1c" stroke-width="2" rx="1.2"/>
<line x1="1509.4" y1="954.3" x2="1530.6" y2="954.3" stroke="#000" stroke-width="2.2" />
<text x="1534.3" y="964.5" font-size="18.8" fill="#111" stroke="#111" stroke-width="0.3">ISS</text>
</g>
</svg>
</body>
</html>
